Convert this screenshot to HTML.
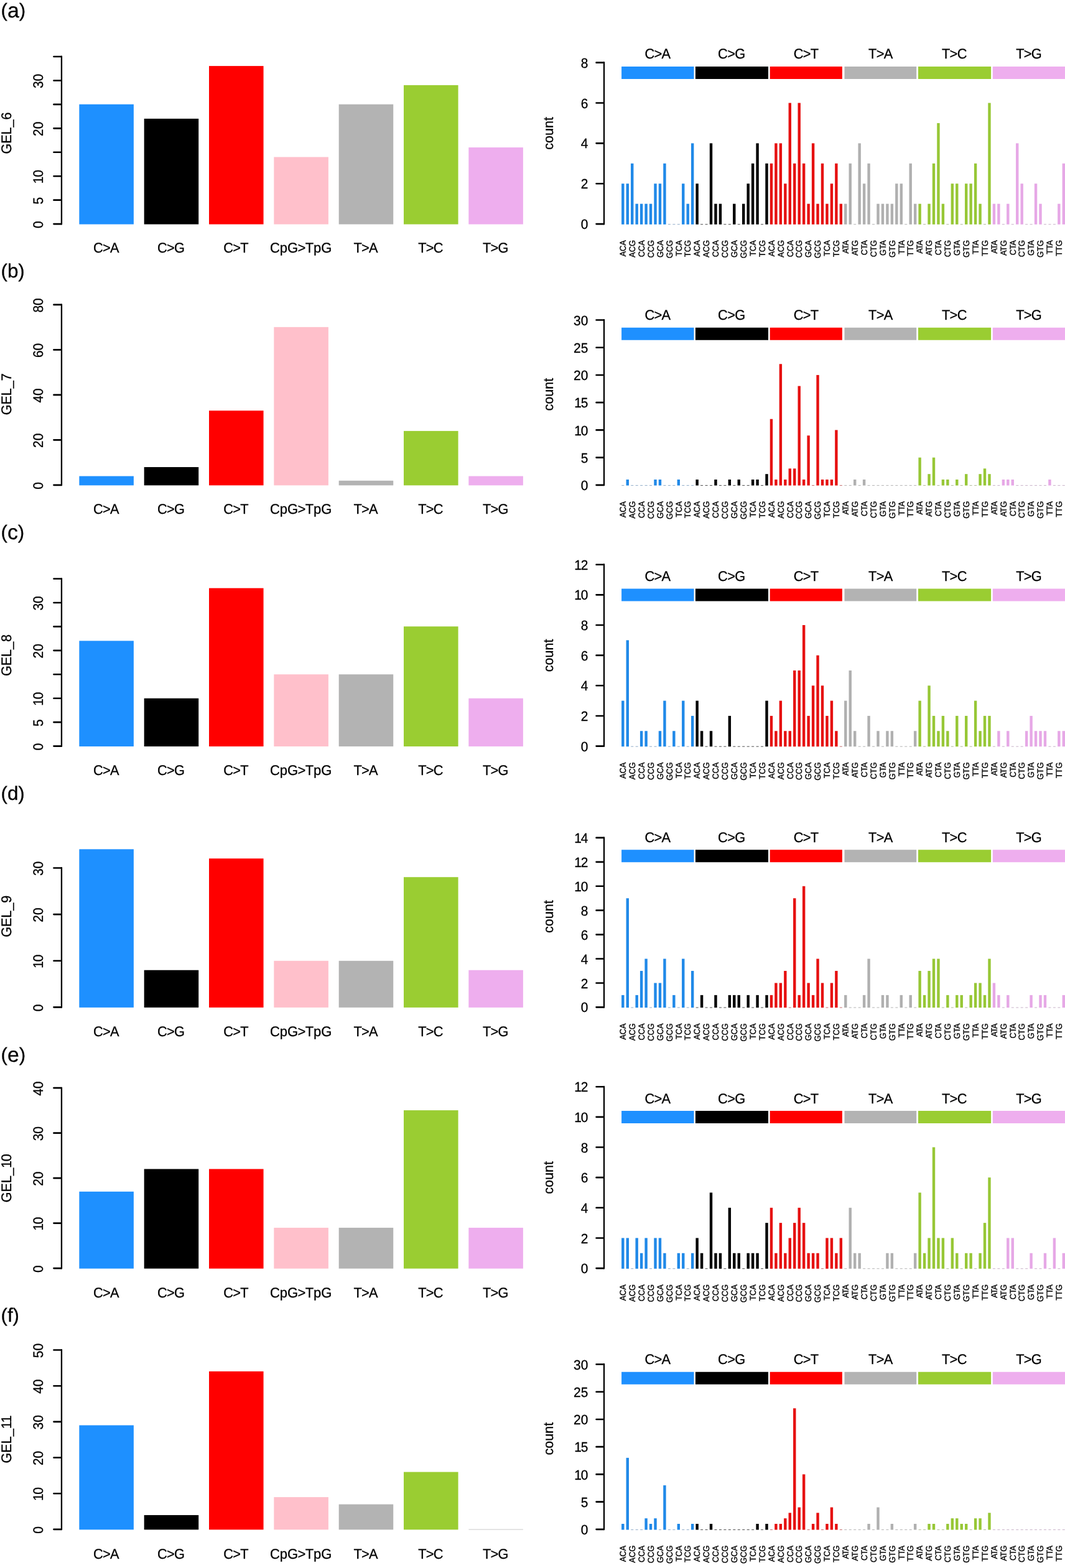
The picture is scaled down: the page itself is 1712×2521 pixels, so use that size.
<!DOCTYPE html>
<html lang="en"><head><meta charset="utf-8"><title>Mutation spectra GEL_6 to GEL_11</title>
<style>
html,body{margin:0;padding:0;background:#fff}
body{width:1712px;height:2521px;overflow:hidden}
svg{display:block}
text{font-family:'Liberation Sans', 'DejaVu Sans', sans-serif;fill:#000;stroke:#000;stroke-linejoin:round;text-rendering:geometricPrecision}
.ax,.tk{stroke:#000;fill:none;stroke-linecap:round;stroke-linejoin:round}
.ax{stroke-width:2.3}.tk{stroke-width:2.6}
.lt{font-size:22.4px;stroke-width:0.3}
.yl{font-size:22.7px;stroke-width:0.3}
.xl{font-size:22.7px;stroke-width:0.3}
.rt{font-size:22px;stroke-width:0.3}
.yr{font-size:22px;stroke-width:0.3}
.tp{font-size:22.7px;stroke-width:0.3}
.sm{font-size:13.8px;stroke-width:0.35}
.pl{stroke-width:0.3}
.m{text-anchor:middle}.e{text-anchor:end}.s{text-anchor:start}
</style></head><body>
<svg width="1712" height="2521" viewBox="0 0 1712 2521" role="img" aria-label="Mutation spectra">
<rect width="1712" height="2521" fill="#fff"/>
<g id="row-a">
<text class="pl s" transform="translate(1.5 26.63) scale(1.01 1)"><tspan font-size="30.85px">(</tspan><tspan font-size="33.4px" dy="0.9">a</tspan><tspan font-size="30.85px" dy="-0.9">)</tspan></text>
<g class="left">
<rect x="127.35" y="167.72" width="87.55" height="192.88" fill="#1E90FF"/>
<rect x="231.68" y="190.83" width="87.55" height="169.77" fill="#000000"/>
<rect x="336.01" y="106.1" width="87.55" height="254.5" fill="#FF0000"/>
<rect x="440.34" y="252.46" width="87.55" height="108.14" fill="#FFC0CB"/>
<rect x="544.67" y="167.72" width="87.55" height="192.88" fill="#B3B3B3"/>
<rect x="649" y="136.91" width="87.55" height="223.69" fill="#9ACD32"/>
<rect x="753.33" y="237.05" width="87.55" height="123.55" fill="#EEAEEE"/>
<path class="ax" d="M98.95 90.72 V360.4"/>
<path class="tk" d="M86.45 360.1 H98.75 M86.45 321.66 H98.75 M86.45 283.22 H98.75 M86.45 244.78 H98.75 M86.45 206.34 H98.75 M86.45 167.9 H98.75 M86.45 129.46 H98.75 M86.45 91.02 H98.75"/>
<text class="lt m" transform="translate(68.6 361.1) rotate(-90) scale(0.93 1)">0</text>
<text class="lt m" transform="translate(68.6 322.66) rotate(-90) scale(0.93 1)">5</text>
<text class="lt m" transform="translate(68.6 284.22) rotate(-90) scale(0.93 1)" dx="0 -1.4">10</text>
<text class="lt m" transform="translate(68.6 207.34) rotate(-90) scale(0.93 1)">20</text>
<text class="lt m" transform="translate(68.6 130.46) rotate(-90) scale(0.93 1)">30</text>
<text class="yl m" transform="translate(18 214) rotate(-90) scale(0.95 1)">GEL_6</text>
<text class="xl m" transform="translate(170.72 406.35) scale(0.96 1)" dx="0 -0.73 -0.73">C&gt;A</text>
<text class="xl m" transform="translate(275.06 406.35) scale(0.96 1)" dx="0 -0.73 -0.73">C&gt;G</text>
<text class="xl m" transform="translate(379.38 406.35) scale(0.96 1)" dx="0 -0.73 -0.73">C&gt;T</text>
<text class="xl m" transform="translate(483.72 406.35) scale(0.97 1)" dx="0 0 0 -0.72 -0.72 0 0">CpG&gt;TpG</text>
<text class="xl m" transform="translate(588.04 406.35) scale(0.96 1)" dx="0 -0.73 -0.73">T&gt;A</text>
<text class="xl m" transform="translate(692.38 406.35) scale(0.96 1)" dx="0 -0.73 -0.73">T&gt;C</text>
<text class="xl m" transform="translate(796.71 406.35) scale(0.96 1)" dx="0 -0.73 -0.73">T&gt;G</text>
</g>
<g class="right">
<rect x="999.1" y="107" width="116.4" height="20" fill="#1E90FF"/>
<text class="tp m" transform="translate(1057.3 93.95) scale(0.96 1)" dx="0 -0.73 -0.73">C&gt;A</text>
<rect x="999.1" y="295.23" width="4.4" height="65.57" fill="#2089E8"/>
<rect x="1006.56" y="295.23" width="4.4" height="65.57" fill="#2089E8"/>
<rect x="1014.02" y="262.8" width="4.4" height="98" fill="#2089E8"/>
<rect x="1021.47" y="327.67" width="4.4" height="33.13" fill="#2089E8"/>
<rect x="1028.93" y="327.67" width="4.4" height="33.13" fill="#2089E8"/>
<rect x="1036.39" y="327.67" width="4.4" height="33.13" fill="#2089E8"/>
<rect x="1043.85" y="327.67" width="4.4" height="33.13" fill="#2089E8"/>
<rect x="1051.31" y="295.23" width="4.4" height="65.57" fill="#2089E8"/>
<rect x="1058.76" y="295.23" width="4.4" height="65.57" fill="#2089E8"/>
<rect x="1066.22" y="262.8" width="4.4" height="98" fill="#2089E8"/>
<rect x="1073.88" y="360.2" width="4" height="1" fill="#7f9fbf" opacity="0.85"/>
<rect x="1081.34" y="360.2" width="4" height="1" fill="#7f9fbf" opacity="0.85"/>
<rect x="1088.8" y="360.2" width="4" height="1" fill="#7f9fbf" opacity="0.85"/>
<rect x="1096.05" y="295.23" width="4.4" height="65.57" fill="#2089E8"/>
<rect x="1103.51" y="327.67" width="4.4" height="33.13" fill="#2089E8"/>
<rect x="1110.97" y="230.37" width="4.4" height="130.43" fill="#2089E8"/>
<text class="sm e" transform="translate(1006.05 386.1) rotate(-90) scale(0.93 1)">ACA</text>
<text class="sm e" transform="translate(1020.97 386.1) rotate(-90) scale(0.93 1)">ACG</text>
<text class="sm e" transform="translate(1035.88 386.1) rotate(-90) scale(0.93 1)">CCA</text>
<text class="sm e" transform="translate(1050.8 386.1) rotate(-90) scale(0.93 1)">CCG</text>
<text class="sm e" transform="translate(1065.71 386.1) rotate(-90) scale(0.93 1)">GCA</text>
<text class="sm e" transform="translate(1080.63 386.1) rotate(-90) scale(0.93 1)">GCG</text>
<text class="sm e" transform="translate(1095.55 386.1) rotate(-90) scale(0.93 1)">TCA</text>
<text class="sm e" transform="translate(1110.46 386.1) rotate(-90) scale(0.93 1)">TCG</text>
<rect x="1117.9" y="107" width="117.1" height="20" fill="#000000"/>
<text class="tp m" transform="translate(1176.1 93.95) scale(0.96 1)" dx="0 -0.73 -0.73">C&gt;G</text>
<rect x="1118.43" y="295.23" width="4.4" height="65.57" fill="#000000"/>
<rect x="1126.09" y="360.2" width="4" height="1" fill="#333333" opacity="0.85"/>
<rect x="1133.54" y="360.2" width="4" height="1" fill="#333333" opacity="0.85"/>
<rect x="1140.8" y="230.37" width="4.4" height="130.43" fill="#000000"/>
<rect x="1148.26" y="327.67" width="4.4" height="33.13" fill="#000000"/>
<rect x="1155.72" y="327.67" width="4.4" height="33.13" fill="#000000"/>
<rect x="1163.38" y="360.2" width="4" height="1" fill="#333333" opacity="0.85"/>
<rect x="1170.83" y="360.2" width="4" height="1" fill="#333333" opacity="0.85"/>
<rect x="1178.09" y="327.67" width="4.4" height="33.13" fill="#000000"/>
<rect x="1185.75" y="360.2" width="4" height="1" fill="#333333" opacity="0.85"/>
<rect x="1193.01" y="327.67" width="4.4" height="33.13" fill="#000000"/>
<rect x="1200.47" y="295.23" width="4.4" height="65.57" fill="#000000"/>
<rect x="1207.92" y="262.8" width="4.4" height="98" fill="#000000"/>
<rect x="1215.38" y="230.37" width="4.4" height="130.43" fill="#000000"/>
<rect x="1223.04" y="360.2" width="4" height="1" fill="#333333" opacity="0.85"/>
<rect x="1230.3" y="262.8" width="4.4" height="98" fill="#000000"/>
<text class="sm e" transform="translate(1125.38 386.1) rotate(-90) scale(0.93 1)">ACA</text>
<text class="sm e" transform="translate(1140.29 386.1) rotate(-90) scale(0.93 1)">ACG</text>
<text class="sm e" transform="translate(1155.21 386.1) rotate(-90) scale(0.93 1)">CCA</text>
<text class="sm e" transform="translate(1170.13 386.1) rotate(-90) scale(0.93 1)">CCG</text>
<text class="sm e" transform="translate(1185.04 386.1) rotate(-90) scale(0.93 1)">GCA</text>
<text class="sm e" transform="translate(1199.96 386.1) rotate(-90) scale(0.93 1)">GCG</text>
<text class="sm e" transform="translate(1214.87 386.1) rotate(-90) scale(0.93 1)">TCA</text>
<text class="sm e" transform="translate(1229.79 386.1) rotate(-90) scale(0.93 1)">TCG</text>
<rect x="1237.7" y="107" width="116.2" height="20" fill="#FF0000"/>
<text class="tp m" transform="translate(1295.9 93.95) scale(0.96 1)" dx="0 -0.73 -0.73">C&gt;T</text>
<rect x="1237.76" y="262.8" width="4.4" height="98" fill="#E61010"/>
<rect x="1245.21" y="230.37" width="4.4" height="130.43" fill="#E61010"/>
<rect x="1252.67" y="230.37" width="4.4" height="130.43" fill="#E61010"/>
<rect x="1260.13" y="295.23" width="4.4" height="65.57" fill="#E61010"/>
<rect x="1267.59" y="165.5" width="4.4" height="195.3" fill="#E61010"/>
<rect x="1275.05" y="262.8" width="4.4" height="98" fill="#E61010"/>
<rect x="1282.5" y="165.5" width="4.4" height="195.3" fill="#E61010"/>
<rect x="1289.96" y="262.8" width="4.4" height="98" fill="#E61010"/>
<rect x="1297.42" y="327.67" width="4.4" height="33.13" fill="#E61010"/>
<rect x="1304.88" y="230.37" width="4.4" height="130.43" fill="#E61010"/>
<rect x="1312.34" y="327.67" width="4.4" height="33.13" fill="#E61010"/>
<rect x="1319.79" y="262.8" width="4.4" height="98" fill="#E61010"/>
<rect x="1327.25" y="327.67" width="4.4" height="33.13" fill="#E61010"/>
<rect x="1334.71" y="295.23" width="4.4" height="65.57" fill="#E61010"/>
<rect x="1342.17" y="262.8" width="4.4" height="98" fill="#E61010"/>
<rect x="1349.63" y="327.67" width="4.4" height="33.13" fill="#E61010"/>
<text class="sm e" transform="translate(1244.71 386.1) rotate(-90) scale(0.93 1)">ACA</text>
<text class="sm e" transform="translate(1259.62 386.1) rotate(-90) scale(0.93 1)">ACG</text>
<text class="sm e" transform="translate(1274.54 386.1) rotate(-90) scale(0.93 1)">CCA</text>
<text class="sm e" transform="translate(1289.45 386.1) rotate(-90) scale(0.93 1)">CCG</text>
<text class="sm e" transform="translate(1304.37 386.1) rotate(-90) scale(0.93 1)">GCA</text>
<text class="sm e" transform="translate(1319.29 386.1) rotate(-90) scale(0.93 1)">GCG</text>
<text class="sm e" transform="translate(1334.2 386.1) rotate(-90) scale(0.93 1)">TCA</text>
<text class="sm e" transform="translate(1349.12 386.1) rotate(-90) scale(0.93 1)">TCG</text>
<rect x="1357.5" y="107" width="115.7" height="20" fill="#B3B3B3"/>
<text class="tp m" transform="translate(1415.7 93.95) scale(0.96 1)" dx="0 -0.73 -0.73">T&gt;A</text>
<rect x="1357.08" y="327.67" width="4.4" height="33.13" fill="#B0B0B0"/>
<rect x="1364.54" y="262.8" width="4.4" height="98" fill="#B0B0B0"/>
<rect x="1372.2" y="360.2" width="4" height="1" fill="#a8a8a8" opacity="0.85"/>
<rect x="1379.46" y="230.37" width="4.4" height="130.43" fill="#B0B0B0"/>
<rect x="1386.92" y="295.23" width="4.4" height="65.57" fill="#B0B0B0"/>
<rect x="1394.37" y="262.8" width="4.4" height="98" fill="#B0B0B0"/>
<rect x="1402.03" y="360.2" width="4" height="1" fill="#a8a8a8" opacity="0.85"/>
<rect x="1409.29" y="327.67" width="4.4" height="33.13" fill="#B0B0B0"/>
<rect x="1416.75" y="327.67" width="4.4" height="33.13" fill="#B0B0B0"/>
<rect x="1424.21" y="327.67" width="4.4" height="33.13" fill="#B0B0B0"/>
<rect x="1431.66" y="327.67" width="4.4" height="33.13" fill="#B0B0B0"/>
<rect x="1439.12" y="295.23" width="4.4" height="65.57" fill="#B0B0B0"/>
<rect x="1446.58" y="295.23" width="4.4" height="65.57" fill="#B0B0B0"/>
<rect x="1454.24" y="360.2" width="4" height="1" fill="#a8a8a8" opacity="0.85"/>
<rect x="1461.5" y="262.8" width="4.4" height="98" fill="#B0B0B0"/>
<rect x="1468.95" y="327.67" width="4.4" height="33.13" fill="#B0B0B0"/>
<text class="sm e" transform="translate(1364.03 386.1) rotate(-90) scale(0.93 1)" dx="0 -0.7 -0.7">ATA</text>
<text class="sm e" transform="translate(1378.95 386.1) rotate(-90) scale(0.93 1)" dx="0 -0.7 0">ATG</text>
<text class="sm e" transform="translate(1393.87 386.1) rotate(-90) scale(0.93 1)" dx="0 0 -0.7">CTA</text>
<text class="sm e" transform="translate(1408.78 386.1) rotate(-90) scale(0.93 1)">CTG</text>
<text class="sm e" transform="translate(1423.7 386.1) rotate(-90) scale(0.93 1)" dx="0 0 -0.7">GTA</text>
<text class="sm e" transform="translate(1438.61 386.1) rotate(-90) scale(0.93 1)">GTG</text>
<text class="sm e" transform="translate(1453.53 386.1) rotate(-90) scale(0.93 1)" dx="0 0 -0.7">TTA</text>
<text class="sm e" transform="translate(1468.45 386.1) rotate(-90) scale(0.93 1)">TTG</text>
<rect x="1476" y="107" width="117.1" height="20" fill="#9ACD32"/>
<text class="tp m" transform="translate(1534.2 93.95) scale(0.96 1)" dx="0 -0.73 -0.73">T&gt;C</text>
<rect x="1476.41" y="327.67" width="4.4" height="33.13" fill="#97C736"/>
<rect x="1484.07" y="360.2" width="4" height="1" fill="#a4b08a" opacity="0.85"/>
<rect x="1491.33" y="327.67" width="4.4" height="33.13" fill="#97C736"/>
<rect x="1498.79" y="262.8" width="4.4" height="98" fill="#97C736"/>
<rect x="1506.24" y="197.93" width="4.4" height="162.87" fill="#97C736"/>
<rect x="1513.7" y="327.67" width="4.4" height="33.13" fill="#97C736"/>
<rect x="1521.36" y="360.2" width="4" height="1" fill="#a4b08a" opacity="0.85"/>
<rect x="1528.62" y="295.23" width="4.4" height="65.57" fill="#97C736"/>
<rect x="1536.08" y="295.23" width="4.4" height="65.57" fill="#97C736"/>
<rect x="1543.73" y="360.2" width="4" height="1" fill="#a4b08a" opacity="0.85"/>
<rect x="1550.99" y="295.23" width="4.4" height="65.57" fill="#97C736"/>
<rect x="1558.45" y="295.23" width="4.4" height="65.57" fill="#97C736"/>
<rect x="1565.91" y="262.8" width="4.4" height="98" fill="#97C736"/>
<rect x="1573.37" y="327.67" width="4.4" height="33.13" fill="#97C736"/>
<rect x="1581.02" y="360.2" width="4" height="1" fill="#a4b08a" opacity="0.85"/>
<rect x="1588.28" y="165.5" width="4.4" height="195.3" fill="#97C736"/>
<text class="sm e" transform="translate(1483.36 386.1) rotate(-90) scale(0.93 1)" dx="0 -0.7 -0.7">ATA</text>
<text class="sm e" transform="translate(1498.28 386.1) rotate(-90) scale(0.93 1)" dx="0 -0.7 0">ATG</text>
<text class="sm e" transform="translate(1513.19 386.1) rotate(-90) scale(0.93 1)" dx="0 0 -0.7">CTA</text>
<text class="sm e" transform="translate(1528.11 386.1) rotate(-90) scale(0.93 1)">CTG</text>
<text class="sm e" transform="translate(1543.03 386.1) rotate(-90) scale(0.93 1)" dx="0 0 -0.7">GTA</text>
<text class="sm e" transform="translate(1557.94 386.1) rotate(-90) scale(0.93 1)">GTG</text>
<text class="sm e" transform="translate(1572.86 386.1) rotate(-90) scale(0.93 1)" dx="0 0 -0.7">TTA</text>
<text class="sm e" transform="translate(1587.77 386.1) rotate(-90) scale(0.93 1)">TTG</text>
<rect x="1595.8" y="107" width="116.2" height="20" fill="#EEAEEE"/>
<text class="tp m" transform="translate(1654 93.95) scale(0.96 1)" dx="0 -0.73 -0.73">T&gt;G</text>
<rect x="1595.74" y="327.67" width="4.4" height="33.13" fill="#E6A8E6"/>
<rect x="1603.2" y="327.67" width="4.4" height="33.13" fill="#E6A8E6"/>
<rect x="1610.86" y="360.2" width="4" height="1" fill="#bfa6bf" opacity="0.85"/>
<rect x="1618.11" y="327.67" width="4.4" height="33.13" fill="#E6A8E6"/>
<rect x="1625.77" y="360.2" width="4" height="1" fill="#bfa6bf" opacity="0.85"/>
<rect x="1633.03" y="230.37" width="4.4" height="130.43" fill="#E6A8E6"/>
<rect x="1640.49" y="295.23" width="4.4" height="65.57" fill="#E6A8E6"/>
<rect x="1648.15" y="360.2" width="4" height="1" fill="#bfa6bf" opacity="0.85"/>
<rect x="1655.6" y="360.2" width="4" height="1" fill="#bfa6bf" opacity="0.85"/>
<rect x="1662.86" y="295.23" width="4.4" height="65.57" fill="#E6A8E6"/>
<rect x="1670.32" y="327.67" width="4.4" height="33.13" fill="#E6A8E6"/>
<rect x="1677.98" y="360.2" width="4" height="1" fill="#bfa6bf" opacity="0.85"/>
<rect x="1685.44" y="360.2" width="4" height="1" fill="#bfa6bf" opacity="0.85"/>
<rect x="1692.89" y="360.2" width="4" height="1" fill="#bfa6bf" opacity="0.85"/>
<rect x="1700.15" y="327.67" width="4.4" height="33.13" fill="#E6A8E6"/>
<rect x="1707.61" y="262.8" width="4.39" height="98" fill="#E6A8E6"/>
<text class="sm e" transform="translate(1602.69 386.1) rotate(-90) scale(0.93 1)" dx="0 -0.7 -0.7">ATA</text>
<text class="sm e" transform="translate(1617.61 386.1) rotate(-90) scale(0.93 1)" dx="0 -0.7 0">ATG</text>
<text class="sm e" transform="translate(1632.52 386.1) rotate(-90) scale(0.93 1)" dx="0 0 -0.7">CTA</text>
<text class="sm e" transform="translate(1647.44 386.1) rotate(-90) scale(0.93 1)">CTG</text>
<text class="sm e" transform="translate(1662.35 386.1) rotate(-90) scale(0.93 1)" dx="0 0 -0.7">GTA</text>
<text class="sm e" transform="translate(1677.27 386.1) rotate(-90) scale(0.93 1)">GTG</text>
<text class="sm e" transform="translate(1692.19 386.1) rotate(-90) scale(0.93 1)" dx="0 0 -0.7">TTA</text>
<text class="sm e" transform="translate(1707.1 386.1) rotate(-90) scale(0.93 1)">TTG</text>
<path class="ax" d="M971 100.33 V360.4"/>
<path class="tk" d="M958.55 360.1 H970.8 M958.55 295.23 H970.8 M958.55 230.37 H970.8 M958.55 165.5 H970.8 M958.55 100.63 H970.8"/>
<text class="rt e" transform="translate(945.3 368.2) scale(0.95 1)">0</text>
<text class="rt e" transform="translate(945.3 303.33) scale(0.95 1)">2</text>
<text class="rt e" transform="translate(945.3 238.47) scale(0.95 1)">4</text>
<text class="rt e" transform="translate(945.3 173.6) scale(0.95 1)">6</text>
<text class="rt e" transform="translate(945.3 108.73) scale(0.95 1)">8</text>
<text class="yr m" transform="translate(889.05 214.5) rotate(-90) scale(0.98 1)">count</text>
</g>
</g>
<g id="row-b">
<text class="pl s" transform="translate(1.5 446.38) scale(1.01 1)"><tspan font-size="30.85px">(</tspan><tspan font-size="31.1px" dy="0.1">b</tspan><tspan font-size="30.85px" dy="-0.1">)</tspan></text>
<g class="left">
<rect x="127.35" y="765.52" width="87.55" height="14.83" fill="#1E90FF"/>
<rect x="231.68" y="751" width="87.55" height="29.35" fill="#000000"/>
<rect x="336.01" y="660.21" width="87.55" height="120.14" fill="#FF0000"/>
<rect x="440.34" y="525.85" width="87.55" height="254.5" fill="#FFC0CB"/>
<rect x="544.67" y="772.79" width="87.55" height="7.56" fill="#B3B3B3"/>
<rect x="649" y="692.9" width="87.55" height="87.45" fill="#9ACD32"/>
<rect x="753.33" y="765.52" width="87.55" height="14.83" fill="#EEAEEE"/>
<path class="ax" d="M98.95 489.61 V780.15"/>
<path class="tk" d="M86.45 779.85 H98.75 M86.45 707.36 H98.75 M86.45 634.88 H98.75 M86.45 562.39 H98.75 M86.45 489.91 H98.75"/>
<text class="lt m" transform="translate(68.6 780.85) rotate(-90) scale(0.93 1)">0</text>
<text class="lt m" transform="translate(68.6 708.36) rotate(-90) scale(0.93 1)">20</text>
<text class="lt m" transform="translate(68.6 635.88) rotate(-90) scale(0.93 1)">40</text>
<text class="lt m" transform="translate(68.6 563.39) rotate(-90) scale(0.93 1)">60</text>
<text class="lt m" transform="translate(68.6 490.91) rotate(-90) scale(0.93 1)">80</text>
<text class="yl m" transform="translate(18 633.75) rotate(-90) scale(0.95 1)">GEL_7</text>
<text class="xl m" transform="translate(170.72 826.35) scale(0.96 1)" dx="0 -0.73 -0.73">C&gt;A</text>
<text class="xl m" transform="translate(275.06 826.35) scale(0.96 1)" dx="0 -0.73 -0.73">C&gt;G</text>
<text class="xl m" transform="translate(379.38 826.35) scale(0.96 1)" dx="0 -0.73 -0.73">C&gt;T</text>
<text class="xl m" transform="translate(483.72 826.35) scale(0.97 1)" dx="0 0 0 -0.72 -0.72 0 0">CpG&gt;TpG</text>
<text class="xl m" transform="translate(588.04 826.35) scale(0.96 1)" dx="0 -0.73 -0.73">T&gt;A</text>
<text class="xl m" transform="translate(692.38 826.35) scale(0.96 1)" dx="0 -0.73 -0.73">T&gt;C</text>
<text class="xl m" transform="translate(796.71 826.35) scale(0.96 1)" dx="0 -0.73 -0.73">T&gt;G</text>
</g>
<g class="right">
<rect x="999.1" y="526.75" width="116.4" height="20" fill="#1E90FF"/>
<text class="tp m" transform="translate(1057.3 513.85) scale(0.96 1)" dx="0 -0.73 -0.73">C&gt;A</text>
<rect x="999.3" y="779.95" width="4" height="1" fill="#7f9fbf" opacity="0.85"/>
<rect x="1006.56" y="771" width="4.4" height="9.55" fill="#2089E8"/>
<rect x="1014.22" y="779.95" width="4" height="1" fill="#7f9fbf" opacity="0.85"/>
<rect x="1021.67" y="779.95" width="4" height="1" fill="#7f9fbf" opacity="0.85"/>
<rect x="1029.13" y="779.95" width="4" height="1" fill="#7f9fbf" opacity="0.85"/>
<rect x="1036.59" y="779.95" width="4" height="1" fill="#7f9fbf" opacity="0.85"/>
<rect x="1044.05" y="779.95" width="4" height="1" fill="#7f9fbf" opacity="0.85"/>
<rect x="1051.31" y="771" width="4.4" height="9.55" fill="#2089E8"/>
<rect x="1058.76" y="771" width="4.4" height="9.55" fill="#2089E8"/>
<rect x="1066.42" y="779.95" width="4" height="1" fill="#7f9fbf" opacity="0.85"/>
<rect x="1073.88" y="779.95" width="4" height="1" fill="#7f9fbf" opacity="0.85"/>
<rect x="1081.34" y="779.95" width="4" height="1" fill="#7f9fbf" opacity="0.85"/>
<rect x="1088.6" y="771" width="4.4" height="9.55" fill="#2089E8"/>
<rect x="1096.25" y="779.95" width="4" height="1" fill="#7f9fbf" opacity="0.85"/>
<rect x="1103.71" y="779.95" width="4" height="1" fill="#7f9fbf" opacity="0.85"/>
<rect x="1111.17" y="779.95" width="4" height="1" fill="#7f9fbf" opacity="0.85"/>
<text class="sm e" transform="translate(1006.05 805.85) rotate(-90) scale(0.93 1)">ACA</text>
<text class="sm e" transform="translate(1020.97 805.85) rotate(-90) scale(0.93 1)">ACG</text>
<text class="sm e" transform="translate(1035.88 805.85) rotate(-90) scale(0.93 1)">CCA</text>
<text class="sm e" transform="translate(1050.8 805.85) rotate(-90) scale(0.93 1)">CCG</text>
<text class="sm e" transform="translate(1065.71 805.85) rotate(-90) scale(0.93 1)">GCA</text>
<text class="sm e" transform="translate(1080.63 805.85) rotate(-90) scale(0.93 1)">GCG</text>
<text class="sm e" transform="translate(1095.55 805.85) rotate(-90) scale(0.93 1)">TCA</text>
<text class="sm e" transform="translate(1110.46 805.85) rotate(-90) scale(0.93 1)">TCG</text>
<rect x="1117.9" y="526.75" width="117.1" height="20" fill="#000000"/>
<text class="tp m" transform="translate(1176.1 513.85) scale(0.96 1)" dx="0 -0.73 -0.73">C&gt;G</text>
<rect x="1118.43" y="771" width="4.4" height="9.55" fill="#000000"/>
<rect x="1126.09" y="779.95" width="4" height="1" fill="#333333" opacity="0.85"/>
<rect x="1133.54" y="779.95" width="4" height="1" fill="#333333" opacity="0.85"/>
<rect x="1141" y="779.95" width="4" height="1" fill="#333333" opacity="0.85"/>
<rect x="1148.26" y="771" width="4.4" height="9.55" fill="#000000"/>
<rect x="1155.92" y="779.95" width="4" height="1" fill="#333333" opacity="0.85"/>
<rect x="1163.38" y="779.95" width="4" height="1" fill="#333333" opacity="0.85"/>
<rect x="1170.63" y="771" width="4.4" height="9.55" fill="#000000"/>
<rect x="1178.29" y="779.95" width="4" height="1" fill="#333333" opacity="0.85"/>
<rect x="1185.55" y="771" width="4.4" height="9.55" fill="#000000"/>
<rect x="1193.21" y="779.95" width="4" height="1" fill="#333333" opacity="0.85"/>
<rect x="1200.67" y="779.95" width="4" height="1" fill="#333333" opacity="0.85"/>
<rect x="1207.92" y="771" width="4.4" height="9.55" fill="#000000"/>
<rect x="1215.38" y="771" width="4.4" height="9.55" fill="#000000"/>
<rect x="1223.04" y="779.95" width="4" height="1" fill="#333333" opacity="0.85"/>
<rect x="1230.3" y="762.16" width="4.4" height="18.39" fill="#000000"/>
<text class="sm e" transform="translate(1125.38 805.85) rotate(-90) scale(0.93 1)">ACA</text>
<text class="sm e" transform="translate(1140.29 805.85) rotate(-90) scale(0.93 1)">ACG</text>
<text class="sm e" transform="translate(1155.21 805.85) rotate(-90) scale(0.93 1)">CCA</text>
<text class="sm e" transform="translate(1170.13 805.85) rotate(-90) scale(0.93 1)">CCG</text>
<text class="sm e" transform="translate(1185.04 805.85) rotate(-90) scale(0.93 1)">GCA</text>
<text class="sm e" transform="translate(1199.96 805.85) rotate(-90) scale(0.93 1)">GCG</text>
<text class="sm e" transform="translate(1214.87 805.85) rotate(-90) scale(0.93 1)">TCA</text>
<text class="sm e" transform="translate(1229.79 805.85) rotate(-90) scale(0.93 1)">TCG</text>
<rect x="1237.7" y="526.75" width="116.2" height="20" fill="#FF0000"/>
<text class="tp m" transform="translate(1295.9 513.85) scale(0.96 1)" dx="0 -0.73 -0.73">C&gt;T</text>
<rect x="1237.76" y="673.7" width="4.4" height="106.85" fill="#E61010"/>
<rect x="1245.21" y="771" width="4.4" height="9.55" fill="#E61010"/>
<rect x="1252.67" y="585.25" width="4.4" height="195.3" fill="#E61010"/>
<rect x="1260.13" y="771" width="4.4" height="9.55" fill="#E61010"/>
<rect x="1267.59" y="753.31" width="4.4" height="27.24" fill="#E61010"/>
<rect x="1275.05" y="753.31" width="4.4" height="27.24" fill="#E61010"/>
<rect x="1282.5" y="620.63" width="4.4" height="159.92" fill="#E61010"/>
<rect x="1289.96" y="771" width="4.4" height="9.55" fill="#E61010"/>
<rect x="1297.42" y="700.24" width="4.4" height="80.31" fill="#E61010"/>
<rect x="1305.08" y="779.95" width="4" height="1" fill="#bb5555" opacity="0.85"/>
<rect x="1312.34" y="602.94" width="4.4" height="177.61" fill="#E61010"/>
<rect x="1319.79" y="771" width="4.4" height="9.55" fill="#E61010"/>
<rect x="1327.25" y="771" width="4.4" height="9.55" fill="#E61010"/>
<rect x="1334.71" y="771" width="4.4" height="9.55" fill="#E61010"/>
<rect x="1342.17" y="691.4" width="4.4" height="89.15" fill="#E61010"/>
<rect x="1349.83" y="779.95" width="4" height="1" fill="#bb5555" opacity="0.85"/>
<text class="sm e" transform="translate(1244.71 805.85) rotate(-90) scale(0.93 1)">ACA</text>
<text class="sm e" transform="translate(1259.62 805.85) rotate(-90) scale(0.93 1)">ACG</text>
<text class="sm e" transform="translate(1274.54 805.85) rotate(-90) scale(0.93 1)">CCA</text>
<text class="sm e" transform="translate(1289.45 805.85) rotate(-90) scale(0.93 1)">CCG</text>
<text class="sm e" transform="translate(1304.37 805.85) rotate(-90) scale(0.93 1)">GCA</text>
<text class="sm e" transform="translate(1319.29 805.85) rotate(-90) scale(0.93 1)">GCG</text>
<text class="sm e" transform="translate(1334.2 805.85) rotate(-90) scale(0.93 1)">TCA</text>
<text class="sm e" transform="translate(1349.12 805.85) rotate(-90) scale(0.93 1)">TCG</text>
<rect x="1357.5" y="526.75" width="115.7" height="20" fill="#B3B3B3"/>
<text class="tp m" transform="translate(1415.7 513.85) scale(0.96 1)" dx="0 -0.73 -0.73">T&gt;A</text>
<rect x="1357.28" y="779.95" width="4" height="1" fill="#a8a8a8" opacity="0.85"/>
<rect x="1364.74" y="779.95" width="4" height="1" fill="#a8a8a8" opacity="0.85"/>
<rect x="1372" y="771" width="4.4" height="9.55" fill="#B0B0B0"/>
<rect x="1379.66" y="779.95" width="4" height="1" fill="#a8a8a8" opacity="0.85"/>
<rect x="1386.92" y="771" width="4.4" height="9.55" fill="#B0B0B0"/>
<rect x="1394.57" y="779.95" width="4" height="1" fill="#a8a8a8" opacity="0.85"/>
<rect x="1402.03" y="779.95" width="4" height="1" fill="#a8a8a8" opacity="0.85"/>
<rect x="1409.49" y="779.95" width="4" height="1" fill="#a8a8a8" opacity="0.85"/>
<rect x="1416.95" y="779.95" width="4" height="1" fill="#a8a8a8" opacity="0.85"/>
<rect x="1424.41" y="779.95" width="4" height="1" fill="#a8a8a8" opacity="0.85"/>
<rect x="1431.86" y="779.95" width="4" height="1" fill="#a8a8a8" opacity="0.85"/>
<rect x="1439.32" y="779.95" width="4" height="1" fill="#a8a8a8" opacity="0.85"/>
<rect x="1446.78" y="779.95" width="4" height="1" fill="#a8a8a8" opacity="0.85"/>
<rect x="1454.24" y="779.95" width="4" height="1" fill="#a8a8a8" opacity="0.85"/>
<rect x="1461.7" y="779.95" width="4" height="1" fill="#a8a8a8" opacity="0.85"/>
<rect x="1469.15" y="779.95" width="4" height="1" fill="#a8a8a8" opacity="0.85"/>
<text class="sm e" transform="translate(1364.03 805.85) rotate(-90) scale(0.93 1)" dx="0 -0.7 -0.7">ATA</text>
<text class="sm e" transform="translate(1378.95 805.85) rotate(-90) scale(0.93 1)" dx="0 -0.7 0">ATG</text>
<text class="sm e" transform="translate(1393.87 805.85) rotate(-90) scale(0.93 1)" dx="0 0 -0.7">CTA</text>
<text class="sm e" transform="translate(1408.78 805.85) rotate(-90) scale(0.93 1)">CTG</text>
<text class="sm e" transform="translate(1423.7 805.85) rotate(-90) scale(0.93 1)" dx="0 0 -0.7">GTA</text>
<text class="sm e" transform="translate(1438.61 805.85) rotate(-90) scale(0.93 1)">GTG</text>
<text class="sm e" transform="translate(1453.53 805.85) rotate(-90) scale(0.93 1)" dx="0 0 -0.7">TTA</text>
<text class="sm e" transform="translate(1468.45 805.85) rotate(-90) scale(0.93 1)">TTG</text>
<rect x="1476" y="526.75" width="117.1" height="20" fill="#9ACD32"/>
<text class="tp m" transform="translate(1534.2 513.85) scale(0.96 1)" dx="0 -0.73 -0.73">T&gt;C</text>
<rect x="1476.41" y="735.62" width="4.4" height="44.93" fill="#97C736"/>
<rect x="1484.07" y="779.95" width="4" height="1" fill="#a4b08a" opacity="0.85"/>
<rect x="1491.33" y="762.16" width="4.4" height="18.39" fill="#97C736"/>
<rect x="1498.79" y="735.62" width="4.4" height="44.93" fill="#97C736"/>
<rect x="1506.44" y="779.95" width="4" height="1" fill="#a4b08a" opacity="0.85"/>
<rect x="1513.7" y="771" width="4.4" height="9.55" fill="#97C736"/>
<rect x="1521.16" y="771" width="4.4" height="9.55" fill="#97C736"/>
<rect x="1528.82" y="779.95" width="4" height="1" fill="#a4b08a" opacity="0.85"/>
<rect x="1536.08" y="771" width="4.4" height="9.55" fill="#97C736"/>
<rect x="1543.73" y="779.95" width="4" height="1" fill="#a4b08a" opacity="0.85"/>
<rect x="1550.99" y="762.16" width="4.4" height="18.39" fill="#97C736"/>
<rect x="1558.65" y="779.95" width="4" height="1" fill="#a4b08a" opacity="0.85"/>
<rect x="1566.11" y="779.95" width="4" height="1" fill="#a4b08a" opacity="0.85"/>
<rect x="1573.37" y="762.16" width="4.4" height="18.39" fill="#97C736"/>
<rect x="1580.82" y="753.31" width="4.4" height="27.24" fill="#97C736"/>
<rect x="1588.28" y="762.16" width="4.4" height="18.39" fill="#97C736"/>
<text class="sm e" transform="translate(1483.36 805.85) rotate(-90) scale(0.93 1)" dx="0 -0.7 -0.7">ATA</text>
<text class="sm e" transform="translate(1498.28 805.85) rotate(-90) scale(0.93 1)" dx="0 -0.7 0">ATG</text>
<text class="sm e" transform="translate(1513.19 805.85) rotate(-90) scale(0.93 1)" dx="0 0 -0.7">CTA</text>
<text class="sm e" transform="translate(1528.11 805.85) rotate(-90) scale(0.93 1)">CTG</text>
<text class="sm e" transform="translate(1543.03 805.85) rotate(-90) scale(0.93 1)" dx="0 0 -0.7">GTA</text>
<text class="sm e" transform="translate(1557.94 805.85) rotate(-90) scale(0.93 1)">GTG</text>
<text class="sm e" transform="translate(1572.86 805.85) rotate(-90) scale(0.93 1)" dx="0 0 -0.7">TTA</text>
<text class="sm e" transform="translate(1587.77 805.85) rotate(-90) scale(0.93 1)">TTG</text>
<rect x="1595.8" y="526.75" width="116.2" height="20" fill="#EEAEEE"/>
<text class="tp m" transform="translate(1654 513.85) scale(0.96 1)" dx="0 -0.73 -0.73">T&gt;G</text>
<rect x="1595.94" y="779.95" width="4" height="1" fill="#bfa6bf" opacity="0.85"/>
<rect x="1603.4" y="779.95" width="4" height="1" fill="#bfa6bf" opacity="0.85"/>
<rect x="1610.66" y="771" width="4.4" height="9.55" fill="#E6A8E6"/>
<rect x="1618.11" y="771" width="4.4" height="9.55" fill="#E6A8E6"/>
<rect x="1625.57" y="771" width="4.4" height="9.55" fill="#E6A8E6"/>
<rect x="1633.23" y="779.95" width="4" height="1" fill="#bfa6bf" opacity="0.85"/>
<rect x="1640.69" y="779.95" width="4" height="1" fill="#bfa6bf" opacity="0.85"/>
<rect x="1648.15" y="779.95" width="4" height="1" fill="#bfa6bf" opacity="0.85"/>
<rect x="1655.6" y="779.95" width="4" height="1" fill="#bfa6bf" opacity="0.85"/>
<rect x="1663.06" y="779.95" width="4" height="1" fill="#bfa6bf" opacity="0.85"/>
<rect x="1670.52" y="779.95" width="4" height="1" fill="#bfa6bf" opacity="0.85"/>
<rect x="1677.98" y="779.95" width="4" height="1" fill="#bfa6bf" opacity="0.85"/>
<rect x="1685.24" y="771" width="4.4" height="9.55" fill="#E6A8E6"/>
<rect x="1692.89" y="779.95" width="4" height="1" fill="#bfa6bf" opacity="0.85"/>
<rect x="1700.35" y="779.95" width="4" height="1" fill="#bfa6bf" opacity="0.85"/>
<rect x="1707.81" y="779.95" width="3.99" height="1" fill="#bfa6bf" opacity="0.85"/>
<text class="sm e" transform="translate(1602.69 805.85) rotate(-90) scale(0.93 1)" dx="0 -0.7 -0.7">ATA</text>
<text class="sm e" transform="translate(1617.61 805.85) rotate(-90) scale(0.93 1)" dx="0 -0.7 0">ATG</text>
<text class="sm e" transform="translate(1632.52 805.85) rotate(-90) scale(0.93 1)" dx="0 0 -0.7">CTA</text>
<text class="sm e" transform="translate(1647.44 805.85) rotate(-90) scale(0.93 1)">CTG</text>
<text class="sm e" transform="translate(1662.35 805.85) rotate(-90) scale(0.93 1)" dx="0 0 -0.7">GTA</text>
<text class="sm e" transform="translate(1677.27 805.85) rotate(-90) scale(0.93 1)">GTG</text>
<text class="sm e" transform="translate(1692.19 805.85) rotate(-90) scale(0.93 1)" dx="0 0 -0.7">TTA</text>
<text class="sm e" transform="translate(1707.1 805.85) rotate(-90) scale(0.93 1)">TTG</text>
<path class="ax" d="M971 514.19 V780.15"/>
<path class="tk" d="M958.55 779.85 H970.8 M958.55 735.62 H970.8 M958.55 691.4 H970.8 M958.55 647.17 H970.8 M958.55 602.94 H970.8 M958.55 558.71 H970.8 M958.55 514.49 H970.8"/>
<text class="rt e" transform="translate(945.3 787.95) scale(0.95 1)">0</text>
<text class="rt e" transform="translate(945.3 743.72) scale(0.95 1)">5</text>
<text class="rt e" transform="translate(945.3 699.5) scale(0.95 1)" dx="0 -1.37">10</text>
<text class="rt e" transform="translate(945.3 655.27) scale(0.95 1)" dx="0 -1.37">15</text>
<text class="rt e" transform="translate(945.3 611.04) scale(0.95 1)">20</text>
<text class="rt e" transform="translate(945.3 566.81) scale(0.95 1)">25</text>
<text class="rt e" transform="translate(945.3 522.59) scale(0.95 1)">30</text>
<text class="yr m" transform="translate(889.05 634.25) rotate(-90) scale(0.98 1)">count</text>
</g>
</g>
<g id="row-c">
<text class="pl s" transform="translate(1.5 866.13) scale(1.01 1)"><tspan font-size="30.85px">(</tspan><tspan font-size="33.4px" dy="0.9">c</tspan><tspan font-size="30.85px" dy="-0.9">)</tspan></text>
<g class="left">
<rect x="127.35" y="1030.33" width="87.55" height="169.77" fill="#1E90FF"/>
<rect x="231.68" y="1122.77" width="87.55" height="77.33" fill="#000000"/>
<rect x="336.01" y="945.6" width="87.55" height="254.5" fill="#FF0000"/>
<rect x="440.34" y="1084.25" width="87.55" height="115.85" fill="#FFC0CB"/>
<rect x="544.67" y="1084.25" width="87.55" height="115.85" fill="#B3B3B3"/>
<rect x="649" y="1007.22" width="87.55" height="192.88" fill="#9ACD32"/>
<rect x="753.33" y="1122.77" width="87.55" height="77.33" fill="#EEAEEE"/>
<path class="ax" d="M98.95 930.22 V1199.9"/>
<path class="tk" d="M86.45 1199.6 H98.75 M86.45 1161.16 H98.75 M86.45 1122.72 H98.75 M86.45 1084.28 H98.75 M86.45 1045.84 H98.75 M86.45 1007.4 H98.75 M86.45 968.96 H98.75 M86.45 930.52 H98.75"/>
<text class="lt m" transform="translate(68.6 1200.6) rotate(-90) scale(0.93 1)">0</text>
<text class="lt m" transform="translate(68.6 1162.16) rotate(-90) scale(0.93 1)">5</text>
<text class="lt m" transform="translate(68.6 1123.72) rotate(-90) scale(0.93 1)" dx="0 -1.4">10</text>
<text class="lt m" transform="translate(68.6 1046.84) rotate(-90) scale(0.93 1)">20</text>
<text class="lt m" transform="translate(68.6 969.96) rotate(-90) scale(0.93 1)">30</text>
<text class="yl m" transform="translate(18 1053.5) rotate(-90) scale(0.95 1)">GEL_8</text>
<text class="xl m" transform="translate(170.72 1246.35) scale(0.96 1)" dx="0 -0.73 -0.73">C&gt;A</text>
<text class="xl m" transform="translate(275.06 1246.35) scale(0.96 1)" dx="0 -0.73 -0.73">C&gt;G</text>
<text class="xl m" transform="translate(379.38 1246.35) scale(0.96 1)" dx="0 -0.73 -0.73">C&gt;T</text>
<text class="xl m" transform="translate(483.72 1246.35) scale(0.97 1)" dx="0 0 0 -0.72 -0.72 0 0">CpG&gt;TpG</text>
<text class="xl m" transform="translate(588.04 1246.35) scale(0.96 1)" dx="0 -0.73 -0.73">T&gt;A</text>
<text class="xl m" transform="translate(692.38 1246.35) scale(0.96 1)" dx="0 -0.73 -0.73">T&gt;C</text>
<text class="xl m" transform="translate(796.71 1246.35) scale(0.96 1)" dx="0 -0.73 -0.73">T&gt;G</text>
</g>
<g class="right">
<rect x="999.1" y="946.5" width="116.4" height="20" fill="#1E90FF"/>
<text class="tp m" transform="translate(1057.3 933.75) scale(0.96 1)" dx="0 -0.73 -0.73">C&gt;A</text>
<rect x="999.1" y="1126.62" width="4.4" height="73.67" fill="#2089E8"/>
<rect x="1006.56" y="1029.32" width="4.4" height="170.97" fill="#2089E8"/>
<rect x="1014.22" y="1199.7" width="4" height="1" fill="#7f9fbf" opacity="0.85"/>
<rect x="1021.67" y="1199.7" width="4" height="1" fill="#7f9fbf" opacity="0.85"/>
<rect x="1028.93" y="1175.27" width="4.4" height="25.02" fill="#2089E8"/>
<rect x="1036.39" y="1175.27" width="4.4" height="25.02" fill="#2089E8"/>
<rect x="1044.05" y="1199.7" width="4" height="1" fill="#7f9fbf" opacity="0.85"/>
<rect x="1051.51" y="1199.7" width="4" height="1" fill="#7f9fbf" opacity="0.85"/>
<rect x="1058.76" y="1175.27" width="4.4" height="25.02" fill="#2089E8"/>
<rect x="1066.22" y="1126.62" width="4.4" height="73.67" fill="#2089E8"/>
<rect x="1073.88" y="1199.7" width="4" height="1" fill="#7f9fbf" opacity="0.85"/>
<rect x="1081.14" y="1175.27" width="4.4" height="25.02" fill="#2089E8"/>
<rect x="1088.8" y="1199.7" width="4" height="1" fill="#7f9fbf" opacity="0.85"/>
<rect x="1096.05" y="1126.62" width="4.4" height="73.67" fill="#2089E8"/>
<rect x="1103.71" y="1199.7" width="4" height="1" fill="#7f9fbf" opacity="0.85"/>
<rect x="1110.97" y="1150.95" width="4.4" height="49.35" fill="#2089E8"/>
<text class="sm e" transform="translate(1006.05 1225.6) rotate(-90) scale(0.93 1)">ACA</text>
<text class="sm e" transform="translate(1020.97 1225.6) rotate(-90) scale(0.93 1)">ACG</text>
<text class="sm e" transform="translate(1035.88 1225.6) rotate(-90) scale(0.93 1)">CCA</text>
<text class="sm e" transform="translate(1050.8 1225.6) rotate(-90) scale(0.93 1)">CCG</text>
<text class="sm e" transform="translate(1065.71 1225.6) rotate(-90) scale(0.93 1)">GCA</text>
<text class="sm e" transform="translate(1080.63 1225.6) rotate(-90) scale(0.93 1)">GCG</text>
<text class="sm e" transform="translate(1095.55 1225.6) rotate(-90) scale(0.93 1)">TCA</text>
<text class="sm e" transform="translate(1110.46 1225.6) rotate(-90) scale(0.93 1)">TCG</text>
<rect x="1117.9" y="946.5" width="117.1" height="20" fill="#000000"/>
<text class="tp m" transform="translate(1176.1 933.75) scale(0.96 1)" dx="0 -0.73 -0.73">C&gt;G</text>
<rect x="1118.43" y="1126.62" width="4.4" height="73.67" fill="#000000"/>
<rect x="1125.89" y="1175.27" width="4.4" height="25.02" fill="#000000"/>
<rect x="1133.54" y="1199.7" width="4" height="1" fill="#333333" opacity="0.85"/>
<rect x="1140.8" y="1175.27" width="4.4" height="25.02" fill="#000000"/>
<rect x="1148.46" y="1199.7" width="4" height="1" fill="#333333" opacity="0.85"/>
<rect x="1155.92" y="1199.7" width="4" height="1" fill="#333333" opacity="0.85"/>
<rect x="1163.38" y="1199.7" width="4" height="1" fill="#333333" opacity="0.85"/>
<rect x="1170.63" y="1150.95" width="4.4" height="49.35" fill="#000000"/>
<rect x="1178.29" y="1199.7" width="4" height="1" fill="#333333" opacity="0.85"/>
<rect x="1185.75" y="1199.7" width="4" height="1" fill="#333333" opacity="0.85"/>
<rect x="1193.21" y="1199.7" width="4" height="1" fill="#333333" opacity="0.85"/>
<rect x="1200.67" y="1199.7" width="4" height="1" fill="#333333" opacity="0.85"/>
<rect x="1208.12" y="1199.7" width="4" height="1" fill="#333333" opacity="0.85"/>
<rect x="1215.58" y="1199.7" width="4" height="1" fill="#333333" opacity="0.85"/>
<rect x="1223.04" y="1199.7" width="4" height="1" fill="#333333" opacity="0.85"/>
<rect x="1230.3" y="1126.62" width="4.4" height="73.67" fill="#000000"/>
<text class="sm e" transform="translate(1125.38 1225.6) rotate(-90) scale(0.93 1)">ACA</text>
<text class="sm e" transform="translate(1140.29 1225.6) rotate(-90) scale(0.93 1)">ACG</text>
<text class="sm e" transform="translate(1155.21 1225.6) rotate(-90) scale(0.93 1)">CCA</text>
<text class="sm e" transform="translate(1170.13 1225.6) rotate(-90) scale(0.93 1)">CCG</text>
<text class="sm e" transform="translate(1185.04 1225.6) rotate(-90) scale(0.93 1)">GCA</text>
<text class="sm e" transform="translate(1199.96 1225.6) rotate(-90) scale(0.93 1)">GCG</text>
<text class="sm e" transform="translate(1214.87 1225.6) rotate(-90) scale(0.93 1)">TCA</text>
<text class="sm e" transform="translate(1229.79 1225.6) rotate(-90) scale(0.93 1)">TCG</text>
<rect x="1237.7" y="946.5" width="116.2" height="20" fill="#FF0000"/>
<text class="tp m" transform="translate(1295.9 933.75) scale(0.96 1)" dx="0 -0.73 -0.73">C&gt;T</text>
<rect x="1237.76" y="1150.95" width="4.4" height="49.35" fill="#E61010"/>
<rect x="1245.21" y="1175.27" width="4.4" height="25.02" fill="#E61010"/>
<rect x="1252.67" y="1126.62" width="4.4" height="73.67" fill="#E61010"/>
<rect x="1260.13" y="1175.27" width="4.4" height="25.02" fill="#E61010"/>
<rect x="1267.59" y="1175.27" width="4.4" height="25.02" fill="#E61010"/>
<rect x="1275.05" y="1077.97" width="4.4" height="122.33" fill="#E61010"/>
<rect x="1282.5" y="1077.97" width="4.4" height="122.33" fill="#E61010"/>
<rect x="1289.96" y="1005" width="4.4" height="195.3" fill="#E61010"/>
<rect x="1297.42" y="1150.95" width="4.4" height="49.35" fill="#E61010"/>
<rect x="1304.88" y="1102.3" width="4.4" height="98" fill="#E61010"/>
<rect x="1312.34" y="1053.65" width="4.4" height="146.65" fill="#E61010"/>
<rect x="1319.79" y="1102.3" width="4.4" height="98" fill="#E61010"/>
<rect x="1327.25" y="1150.95" width="4.4" height="49.35" fill="#E61010"/>
<rect x="1334.71" y="1126.62" width="4.4" height="73.67" fill="#E61010"/>
<rect x="1342.17" y="1175.27" width="4.4" height="25.02" fill="#E61010"/>
<rect x="1349.83" y="1199.7" width="4" height="1" fill="#bb5555" opacity="0.85"/>
<text class="sm e" transform="translate(1244.71 1225.6) rotate(-90) scale(0.93 1)">ACA</text>
<text class="sm e" transform="translate(1259.62 1225.6) rotate(-90) scale(0.93 1)">ACG</text>
<text class="sm e" transform="translate(1274.54 1225.6) rotate(-90) scale(0.93 1)">CCA</text>
<text class="sm e" transform="translate(1289.45 1225.6) rotate(-90) scale(0.93 1)">CCG</text>
<text class="sm e" transform="translate(1304.37 1225.6) rotate(-90) scale(0.93 1)">GCA</text>
<text class="sm e" transform="translate(1319.29 1225.6) rotate(-90) scale(0.93 1)">GCG</text>
<text class="sm e" transform="translate(1334.2 1225.6) rotate(-90) scale(0.93 1)">TCA</text>
<text class="sm e" transform="translate(1349.12 1225.6) rotate(-90) scale(0.93 1)">TCG</text>
<rect x="1357.5" y="946.5" width="115.7" height="20" fill="#B3B3B3"/>
<text class="tp m" transform="translate(1415.7 933.75) scale(0.96 1)" dx="0 -0.73 -0.73">T&gt;A</text>
<rect x="1357.08" y="1126.62" width="4.4" height="73.67" fill="#B0B0B0"/>
<rect x="1364.54" y="1077.97" width="4.4" height="122.33" fill="#B0B0B0"/>
<rect x="1372" y="1175.27" width="4.4" height="25.02" fill="#B0B0B0"/>
<rect x="1379.66" y="1199.7" width="4" height="1" fill="#a8a8a8" opacity="0.85"/>
<rect x="1387.12" y="1199.7" width="4" height="1" fill="#a8a8a8" opacity="0.85"/>
<rect x="1394.37" y="1150.95" width="4.4" height="49.35" fill="#B0B0B0"/>
<rect x="1402.03" y="1199.7" width="4" height="1" fill="#a8a8a8" opacity="0.85"/>
<rect x="1409.29" y="1175.27" width="4.4" height="25.02" fill="#B0B0B0"/>
<rect x="1416.95" y="1199.7" width="4" height="1" fill="#a8a8a8" opacity="0.85"/>
<rect x="1424.21" y="1175.27" width="4.4" height="25.02" fill="#B0B0B0"/>
<rect x="1431.66" y="1175.27" width="4.4" height="25.02" fill="#B0B0B0"/>
<rect x="1439.32" y="1199.7" width="4" height="1" fill="#a8a8a8" opacity="0.85"/>
<rect x="1446.78" y="1199.7" width="4" height="1" fill="#a8a8a8" opacity="0.85"/>
<rect x="1454.24" y="1199.7" width="4" height="1" fill="#a8a8a8" opacity="0.85"/>
<rect x="1461.7" y="1199.7" width="4" height="1" fill="#a8a8a8" opacity="0.85"/>
<rect x="1468.95" y="1175.27" width="4.4" height="25.02" fill="#B0B0B0"/>
<text class="sm e" transform="translate(1364.03 1225.6) rotate(-90) scale(0.93 1)" dx="0 -0.7 -0.7">ATA</text>
<text class="sm e" transform="translate(1378.95 1225.6) rotate(-90) scale(0.93 1)" dx="0 -0.7 0">ATG</text>
<text class="sm e" transform="translate(1393.87 1225.6) rotate(-90) scale(0.93 1)" dx="0 0 -0.7">CTA</text>
<text class="sm e" transform="translate(1408.78 1225.6) rotate(-90) scale(0.93 1)">CTG</text>
<text class="sm e" transform="translate(1423.7 1225.6) rotate(-90) scale(0.93 1)" dx="0 0 -0.7">GTA</text>
<text class="sm e" transform="translate(1438.61 1225.6) rotate(-90) scale(0.93 1)">GTG</text>
<text class="sm e" transform="translate(1453.53 1225.6) rotate(-90) scale(0.93 1)" dx="0 0 -0.7">TTA</text>
<text class="sm e" transform="translate(1468.45 1225.6) rotate(-90) scale(0.93 1)">TTG</text>
<rect x="1476" y="946.5" width="117.1" height="20" fill="#9ACD32"/>
<text class="tp m" transform="translate(1534.2 933.75) scale(0.96 1)" dx="0 -0.73 -0.73">T&gt;C</text>
<rect x="1476.41" y="1126.62" width="4.4" height="73.67" fill="#97C736"/>
<rect x="1484.07" y="1199.7" width="4" height="1" fill="#a4b08a" opacity="0.85"/>
<rect x="1491.33" y="1102.3" width="4.4" height="98" fill="#97C736"/>
<rect x="1498.79" y="1150.95" width="4.4" height="49.35" fill="#97C736"/>
<rect x="1506.24" y="1175.27" width="4.4" height="25.02" fill="#97C736"/>
<rect x="1513.7" y="1150.95" width="4.4" height="49.35" fill="#97C736"/>
<rect x="1521.16" y="1175.27" width="4.4" height="25.02" fill="#97C736"/>
<rect x="1528.82" y="1199.7" width="4" height="1" fill="#a4b08a" opacity="0.85"/>
<rect x="1536.08" y="1150.95" width="4.4" height="49.35" fill="#97C736"/>
<rect x="1543.73" y="1199.7" width="4" height="1" fill="#a4b08a" opacity="0.85"/>
<rect x="1550.99" y="1150.95" width="4.4" height="49.35" fill="#97C736"/>
<rect x="1558.65" y="1199.7" width="4" height="1" fill="#a4b08a" opacity="0.85"/>
<rect x="1565.91" y="1126.62" width="4.4" height="73.67" fill="#97C736"/>
<rect x="1573.37" y="1175.27" width="4.4" height="25.02" fill="#97C736"/>
<rect x="1580.82" y="1150.95" width="4.4" height="49.35" fill="#97C736"/>
<rect x="1588.28" y="1150.95" width="4.4" height="49.35" fill="#97C736"/>
<text class="sm e" transform="translate(1483.36 1225.6) rotate(-90) scale(0.93 1)" dx="0 -0.7 -0.7">ATA</text>
<text class="sm e" transform="translate(1498.28 1225.6) rotate(-90) scale(0.93 1)" dx="0 -0.7 0">ATG</text>
<text class="sm e" transform="translate(1513.19 1225.6) rotate(-90) scale(0.93 1)" dx="0 0 -0.7">CTA</text>
<text class="sm e" transform="translate(1528.11 1225.6) rotate(-90) scale(0.93 1)">CTG</text>
<text class="sm e" transform="translate(1543.03 1225.6) rotate(-90) scale(0.93 1)" dx="0 0 -0.7">GTA</text>
<text class="sm e" transform="translate(1557.94 1225.6) rotate(-90) scale(0.93 1)">GTG</text>
<text class="sm e" transform="translate(1572.86 1225.6) rotate(-90) scale(0.93 1)" dx="0 0 -0.7">TTA</text>
<text class="sm e" transform="translate(1587.77 1225.6) rotate(-90) scale(0.93 1)">TTG</text>
<rect x="1595.8" y="946.5" width="116.2" height="20" fill="#EEAEEE"/>
<text class="tp m" transform="translate(1654 933.75) scale(0.96 1)" dx="0 -0.73 -0.73">T&gt;G</text>
<rect x="1595.94" y="1199.7" width="4" height="1" fill="#bfa6bf" opacity="0.85"/>
<rect x="1603.2" y="1175.27" width="4.4" height="25.02" fill="#E6A8E6"/>
<rect x="1610.86" y="1199.7" width="4" height="1" fill="#bfa6bf" opacity="0.85"/>
<rect x="1618.11" y="1175.27" width="4.4" height="25.02" fill="#E6A8E6"/>
<rect x="1625.77" y="1199.7" width="4" height="1" fill="#bfa6bf" opacity="0.85"/>
<rect x="1633.23" y="1199.7" width="4" height="1" fill="#bfa6bf" opacity="0.85"/>
<rect x="1640.69" y="1199.7" width="4" height="1" fill="#bfa6bf" opacity="0.85"/>
<rect x="1647.95" y="1175.27" width="4.4" height="25.02" fill="#E6A8E6"/>
<rect x="1655.4" y="1150.95" width="4.4" height="49.35" fill="#E6A8E6"/>
<rect x="1662.86" y="1175.27" width="4.4" height="25.02" fill="#E6A8E6"/>
<rect x="1670.32" y="1175.27" width="4.4" height="25.02" fill="#E6A8E6"/>
<rect x="1677.78" y="1175.27" width="4.4" height="25.02" fill="#E6A8E6"/>
<rect x="1685.44" y="1199.7" width="4" height="1" fill="#bfa6bf" opacity="0.85"/>
<rect x="1692.89" y="1199.7" width="4" height="1" fill="#bfa6bf" opacity="0.85"/>
<rect x="1700.15" y="1175.27" width="4.4" height="25.02" fill="#E6A8E6"/>
<rect x="1707.61" y="1175.27" width="4.39" height="25.02" fill="#E6A8E6"/>
<text class="sm e" transform="translate(1602.69 1225.6) rotate(-90) scale(0.93 1)" dx="0 -0.7 -0.7">ATA</text>
<text class="sm e" transform="translate(1617.61 1225.6) rotate(-90) scale(0.93 1)" dx="0 -0.7 0">ATG</text>
<text class="sm e" transform="translate(1632.52 1225.6) rotate(-90) scale(0.93 1)" dx="0 0 -0.7">CTA</text>
<text class="sm e" transform="translate(1647.44 1225.6) rotate(-90) scale(0.93 1)">CTG</text>
<text class="sm e" transform="translate(1662.35 1225.6) rotate(-90) scale(0.93 1)" dx="0 0 -0.7">GTA</text>
<text class="sm e" transform="translate(1677.27 1225.6) rotate(-90) scale(0.93 1)">GTG</text>
<text class="sm e" transform="translate(1692.19 1225.6) rotate(-90) scale(0.93 1)" dx="0 0 -0.7">TTA</text>
<text class="sm e" transform="translate(1707.1 1225.6) rotate(-90) scale(0.93 1)">TTG</text>
<path class="ax" d="M971 907.4 V1199.9"/>
<path class="tk" d="M958.55 1199.6 H970.8 M958.55 1150.95 H970.8 M958.55 1102.3 H970.8 M958.55 1053.65 H970.8 M958.55 1005 H970.8 M958.55 956.35 H970.8 M958.55 907.7 H970.8"/>
<text class="rt e" transform="translate(945.3 1207.7) scale(0.95 1)">0</text>
<text class="rt e" transform="translate(945.3 1159.05) scale(0.95 1)">2</text>
<text class="rt e" transform="translate(945.3 1110.4) scale(0.95 1)">4</text>
<text class="rt e" transform="translate(945.3 1061.75) scale(0.95 1)">6</text>
<text class="rt e" transform="translate(945.3 1013.1) scale(0.95 1)">8</text>
<text class="rt e" transform="translate(945.3 964.45) scale(0.95 1)" dx="0 -1.37">10</text>
<text class="rt e" transform="translate(945.3 915.8) scale(0.95 1)" dx="0 -1.37">12</text>
<text class="yr m" transform="translate(889.05 1054) rotate(-90) scale(0.98 1)">count</text>
</g>
</g>
<g id="row-d">
<text class="pl s" transform="translate(1.5 1285.88) scale(1.01 1)"><tspan font-size="30.85px">(</tspan><tspan font-size="31.1px" dy="0.1">d</tspan><tspan font-size="30.85px" dy="-0.1">)</tspan></text>
<g class="left">
<rect x="127.35" y="1365.35" width="87.55" height="254.5" fill="#1E90FF"/>
<rect x="231.68" y="1559.74" width="87.55" height="60.11" fill="#000000"/>
<rect x="336.01" y="1380.3" width="87.55" height="239.55" fill="#FF0000"/>
<rect x="440.34" y="1544.79" width="87.55" height="75.06" fill="#FFC0CB"/>
<rect x="544.67" y="1544.79" width="87.55" height="75.06" fill="#B3B3B3"/>
<rect x="649" y="1410.21" width="87.55" height="209.64" fill="#9ACD32"/>
<rect x="753.33" y="1559.74" width="87.55" height="60.11" fill="#EEAEEE"/>
<path class="ax" d="M98.95 1395.2 V1619.65"/>
<path class="tk" d="M86.45 1619.35 H98.75 M86.45 1544.73 H98.75 M86.45 1470.11 H98.75 M86.45 1395.5 H98.75"/>
<text class="lt m" transform="translate(68.6 1620.35) rotate(-90) scale(0.93 1)">0</text>
<text class="lt m" transform="translate(68.6 1545.73) rotate(-90) scale(0.93 1)" dx="0 -1.4">10</text>
<text class="lt m" transform="translate(68.6 1471.11) rotate(-90) scale(0.93 1)">20</text>
<text class="lt m" transform="translate(68.6 1396.5) rotate(-90) scale(0.93 1)">30</text>
<text class="yl m" transform="translate(18 1473.25) rotate(-90) scale(0.95 1)">GEL_9</text>
<text class="xl m" transform="translate(170.72 1666.35) scale(0.96 1)" dx="0 -0.73 -0.73">C&gt;A</text>
<text class="xl m" transform="translate(275.06 1666.35) scale(0.96 1)" dx="0 -0.73 -0.73">C&gt;G</text>
<text class="xl m" transform="translate(379.38 1666.35) scale(0.96 1)" dx="0 -0.73 -0.73">C&gt;T</text>
<text class="xl m" transform="translate(483.72 1666.35) scale(0.97 1)" dx="0 0 0 -0.72 -0.72 0 0">CpG&gt;TpG</text>
<text class="xl m" transform="translate(588.04 1666.35) scale(0.96 1)" dx="0 -0.73 -0.73">T&gt;A</text>
<text class="xl m" transform="translate(692.38 1666.35) scale(0.96 1)" dx="0 -0.73 -0.73">T&gt;C</text>
<text class="xl m" transform="translate(796.71 1666.35) scale(0.96 1)" dx="0 -0.73 -0.73">T&gt;G</text>
</g>
<g class="right">
<rect x="999.1" y="1366.25" width="116.4" height="20" fill="#1E90FF"/>
<text class="tp m" transform="translate(1057.3 1353.65) scale(0.96 1)" dx="0 -0.73 -0.73">C&gt;A</text>
<rect x="999.1" y="1599.89" width="4.4" height="20.16" fill="#2089E8"/>
<rect x="1006.56" y="1444.21" width="4.4" height="175.84" fill="#2089E8"/>
<rect x="1014.22" y="1619.45" width="4" height="1" fill="#7f9fbf" opacity="0.85"/>
<rect x="1021.47" y="1599.89" width="4.4" height="20.16" fill="#2089E8"/>
<rect x="1028.93" y="1560.97" width="4.4" height="59.08" fill="#2089E8"/>
<rect x="1036.39" y="1541.51" width="4.4" height="78.54" fill="#2089E8"/>
<rect x="1044.05" y="1619.45" width="4" height="1" fill="#7f9fbf" opacity="0.85"/>
<rect x="1051.31" y="1580.43" width="4.4" height="39.62" fill="#2089E8"/>
<rect x="1058.76" y="1580.43" width="4.4" height="39.62" fill="#2089E8"/>
<rect x="1066.22" y="1541.51" width="4.4" height="78.54" fill="#2089E8"/>
<rect x="1073.88" y="1619.45" width="4" height="1" fill="#7f9fbf" opacity="0.85"/>
<rect x="1081.14" y="1599.89" width="4.4" height="20.16" fill="#2089E8"/>
<rect x="1088.8" y="1619.45" width="4" height="1" fill="#7f9fbf" opacity="0.85"/>
<rect x="1096.05" y="1541.51" width="4.4" height="78.54" fill="#2089E8"/>
<rect x="1103.71" y="1619.45" width="4" height="1" fill="#7f9fbf" opacity="0.85"/>
<rect x="1110.97" y="1560.97" width="4.4" height="59.08" fill="#2089E8"/>
<text class="sm e" transform="translate(1006.05 1645.35) rotate(-90) scale(0.93 1)">ACA</text>
<text class="sm e" transform="translate(1020.97 1645.35) rotate(-90) scale(0.93 1)">ACG</text>
<text class="sm e" transform="translate(1035.88 1645.35) rotate(-90) scale(0.93 1)">CCA</text>
<text class="sm e" transform="translate(1050.8 1645.35) rotate(-90) scale(0.93 1)">CCG</text>
<text class="sm e" transform="translate(1065.71 1645.35) rotate(-90) scale(0.93 1)">GCA</text>
<text class="sm e" transform="translate(1080.63 1645.35) rotate(-90) scale(0.93 1)">GCG</text>
<text class="sm e" transform="translate(1095.55 1645.35) rotate(-90) scale(0.93 1)">TCA</text>
<text class="sm e" transform="translate(1110.46 1645.35) rotate(-90) scale(0.93 1)">TCG</text>
<rect x="1117.9" y="1366.25" width="117.1" height="20" fill="#000000"/>
<text class="tp m" transform="translate(1176.1 1353.65) scale(0.96 1)" dx="0 -0.73 -0.73">C&gt;G</text>
<rect x="1118.63" y="1619.45" width="4" height="1" fill="#333333" opacity="0.85"/>
<rect x="1125.89" y="1599.89" width="4.4" height="20.16" fill="#000000"/>
<rect x="1133.54" y="1619.45" width="4" height="1" fill="#333333" opacity="0.85"/>
<rect x="1141" y="1619.45" width="4" height="1" fill="#333333" opacity="0.85"/>
<rect x="1148.26" y="1599.89" width="4.4" height="20.16" fill="#000000"/>
<rect x="1155.92" y="1619.45" width="4" height="1" fill="#333333" opacity="0.85"/>
<rect x="1163.38" y="1619.45" width="4" height="1" fill="#333333" opacity="0.85"/>
<rect x="1170.63" y="1599.89" width="4.4" height="20.16" fill="#000000"/>
<rect x="1178.09" y="1599.89" width="4.4" height="20.16" fill="#000000"/>
<rect x="1185.55" y="1599.89" width="4.4" height="20.16" fill="#000000"/>
<rect x="1193.21" y="1619.45" width="4" height="1" fill="#333333" opacity="0.85"/>
<rect x="1200.47" y="1599.89" width="4.4" height="20.16" fill="#000000"/>
<rect x="1208.12" y="1619.45" width="4" height="1" fill="#333333" opacity="0.85"/>
<rect x="1215.38" y="1599.89" width="4.4" height="20.16" fill="#000000"/>
<rect x="1223.04" y="1619.45" width="4" height="1" fill="#333333" opacity="0.85"/>
<rect x="1230.3" y="1599.89" width="4.4" height="20.16" fill="#000000"/>
<text class="sm e" transform="translate(1125.38 1645.35) rotate(-90) scale(0.93 1)">ACA</text>
<text class="sm e" transform="translate(1140.29 1645.35) rotate(-90) scale(0.93 1)">ACG</text>
<text class="sm e" transform="translate(1155.21 1645.35) rotate(-90) scale(0.93 1)">CCA</text>
<text class="sm e" transform="translate(1170.13 1645.35) rotate(-90) scale(0.93 1)">CCG</text>
<text class="sm e" transform="translate(1185.04 1645.35) rotate(-90) scale(0.93 1)">GCA</text>
<text class="sm e" transform="translate(1199.96 1645.35) rotate(-90) scale(0.93 1)">GCG</text>
<text class="sm e" transform="translate(1214.87 1645.35) rotate(-90) scale(0.93 1)">TCA</text>
<text class="sm e" transform="translate(1229.79 1645.35) rotate(-90) scale(0.93 1)">TCG</text>
<rect x="1237.7" y="1366.25" width="116.2" height="20" fill="#FF0000"/>
<text class="tp m" transform="translate(1295.9 1353.65) scale(0.96 1)" dx="0 -0.73 -0.73">C&gt;T</text>
<rect x="1237.76" y="1599.89" width="4.4" height="20.16" fill="#E61010"/>
<rect x="1245.21" y="1580.43" width="4.4" height="39.62" fill="#E61010"/>
<rect x="1252.67" y="1580.43" width="4.4" height="39.62" fill="#E61010"/>
<rect x="1260.13" y="1560.97" width="4.4" height="59.08" fill="#E61010"/>
<rect x="1267.79" y="1619.45" width="4" height="1" fill="#bb5555" opacity="0.85"/>
<rect x="1275.05" y="1444.21" width="4.4" height="175.84" fill="#E61010"/>
<rect x="1282.5" y="1599.89" width="4.4" height="20.16" fill="#E61010"/>
<rect x="1289.96" y="1424.75" width="4.4" height="195.3" fill="#E61010"/>
<rect x="1297.42" y="1580.43" width="4.4" height="39.62" fill="#E61010"/>
<rect x="1304.88" y="1599.89" width="4.4" height="20.16" fill="#E61010"/>
<rect x="1312.34" y="1541.51" width="4.4" height="78.54" fill="#E61010"/>
<rect x="1319.79" y="1580.43" width="4.4" height="39.62" fill="#E61010"/>
<rect x="1327.45" y="1619.45" width="4" height="1" fill="#bb5555" opacity="0.85"/>
<rect x="1334.71" y="1580.43" width="4.4" height="39.62" fill="#E61010"/>
<rect x="1342.17" y="1560.97" width="4.4" height="59.08" fill="#E61010"/>
<rect x="1349.83" y="1619.45" width="4" height="1" fill="#bb5555" opacity="0.85"/>
<text class="sm e" transform="translate(1244.71 1645.35) rotate(-90) scale(0.93 1)">ACA</text>
<text class="sm e" transform="translate(1259.62 1645.35) rotate(-90) scale(0.93 1)">ACG</text>
<text class="sm e" transform="translate(1274.54 1645.35) rotate(-90) scale(0.93 1)">CCA</text>
<text class="sm e" transform="translate(1289.45 1645.35) rotate(-90) scale(0.93 1)">CCG</text>
<text class="sm e" transform="translate(1304.37 1645.35) rotate(-90) scale(0.93 1)">GCA</text>
<text class="sm e" transform="translate(1319.29 1645.35) rotate(-90) scale(0.93 1)">GCG</text>
<text class="sm e" transform="translate(1334.2 1645.35) rotate(-90) scale(0.93 1)">TCA</text>
<text class="sm e" transform="translate(1349.12 1645.35) rotate(-90) scale(0.93 1)">TCG</text>
<rect x="1357.5" y="1366.25" width="115.7" height="20" fill="#B3B3B3"/>
<text class="tp m" transform="translate(1415.7 1353.65) scale(0.96 1)" dx="0 -0.73 -0.73">T&gt;A</text>
<rect x="1357.08" y="1599.89" width="4.4" height="20.16" fill="#B0B0B0"/>
<rect x="1364.74" y="1619.45" width="4" height="1" fill="#a8a8a8" opacity="0.85"/>
<rect x="1372.2" y="1619.45" width="4" height="1" fill="#a8a8a8" opacity="0.85"/>
<rect x="1379.66" y="1619.45" width="4" height="1" fill="#a8a8a8" opacity="0.85"/>
<rect x="1386.92" y="1599.89" width="4.4" height="20.16" fill="#B0B0B0"/>
<rect x="1394.37" y="1541.51" width="4.4" height="78.54" fill="#B0B0B0"/>
<rect x="1402.03" y="1619.45" width="4" height="1" fill="#a8a8a8" opacity="0.85"/>
<rect x="1409.49" y="1619.45" width="4" height="1" fill="#a8a8a8" opacity="0.85"/>
<rect x="1416.75" y="1599.89" width="4.4" height="20.16" fill="#B0B0B0"/>
<rect x="1424.21" y="1599.89" width="4.4" height="20.16" fill="#B0B0B0"/>
<rect x="1431.86" y="1619.45" width="4" height="1" fill="#a8a8a8" opacity="0.85"/>
<rect x="1439.32" y="1619.45" width="4" height="1" fill="#a8a8a8" opacity="0.85"/>
<rect x="1446.58" y="1599.89" width="4.4" height="20.16" fill="#B0B0B0"/>
<rect x="1454.24" y="1619.45" width="4" height="1" fill="#a8a8a8" opacity="0.85"/>
<rect x="1461.5" y="1599.89" width="4.4" height="20.16" fill="#B0B0B0"/>
<rect x="1469.15" y="1619.45" width="4" height="1" fill="#a8a8a8" opacity="0.85"/>
<text class="sm e" transform="translate(1364.03 1645.35) rotate(-90) scale(0.93 1)" dx="0 -0.7 -0.7">ATA</text>
<text class="sm e" transform="translate(1378.95 1645.35) rotate(-90) scale(0.93 1)" dx="0 -0.7 0">ATG</text>
<text class="sm e" transform="translate(1393.87 1645.35) rotate(-90) scale(0.93 1)" dx="0 0 -0.7">CTA</text>
<text class="sm e" transform="translate(1408.78 1645.35) rotate(-90) scale(0.93 1)">CTG</text>
<text class="sm e" transform="translate(1423.7 1645.35) rotate(-90) scale(0.93 1)" dx="0 0 -0.7">GTA</text>
<text class="sm e" transform="translate(1438.61 1645.35) rotate(-90) scale(0.93 1)">GTG</text>
<text class="sm e" transform="translate(1453.53 1645.35) rotate(-90) scale(0.93 1)" dx="0 0 -0.7">TTA</text>
<text class="sm e" transform="translate(1468.45 1645.35) rotate(-90) scale(0.93 1)">TTG</text>
<rect x="1476" y="1366.25" width="117.1" height="20" fill="#9ACD32"/>
<text class="tp m" transform="translate(1534.2 1353.65) scale(0.96 1)" dx="0 -0.73 -0.73">T&gt;C</text>
<rect x="1476.41" y="1560.97" width="4.4" height="59.08" fill="#97C736"/>
<rect x="1483.87" y="1599.89" width="4.4" height="20.16" fill="#97C736"/>
<rect x="1491.33" y="1560.97" width="4.4" height="59.08" fill="#97C736"/>
<rect x="1498.79" y="1541.51" width="4.4" height="78.54" fill="#97C736"/>
<rect x="1506.24" y="1541.51" width="4.4" height="78.54" fill="#97C736"/>
<rect x="1513.9" y="1619.45" width="4" height="1" fill="#a4b08a" opacity="0.85"/>
<rect x="1521.16" y="1599.89" width="4.4" height="20.16" fill="#97C736"/>
<rect x="1528.82" y="1619.45" width="4" height="1" fill="#a4b08a" opacity="0.85"/>
<rect x="1536.08" y="1599.89" width="4.4" height="20.16" fill="#97C736"/>
<rect x="1543.53" y="1599.89" width="4.4" height="20.16" fill="#97C736"/>
<rect x="1551.19" y="1619.45" width="4" height="1" fill="#a4b08a" opacity="0.85"/>
<rect x="1558.45" y="1599.89" width="4.4" height="20.16" fill="#97C736"/>
<rect x="1565.91" y="1580.43" width="4.4" height="39.62" fill="#97C736"/>
<rect x="1573.37" y="1580.43" width="4.4" height="39.62" fill="#97C736"/>
<rect x="1580.82" y="1599.89" width="4.4" height="20.16" fill="#97C736"/>
<rect x="1588.28" y="1541.51" width="4.4" height="78.54" fill="#97C736"/>
<text class="sm e" transform="translate(1483.36 1645.35) rotate(-90) scale(0.93 1)" dx="0 -0.7 -0.7">ATA</text>
<text class="sm e" transform="translate(1498.28 1645.35) rotate(-90) scale(0.93 1)" dx="0 -0.7 0">ATG</text>
<text class="sm e" transform="translate(1513.19 1645.35) rotate(-90) scale(0.93 1)" dx="0 0 -0.7">CTA</text>
<text class="sm e" transform="translate(1528.11 1645.35) rotate(-90) scale(0.93 1)">CTG</text>
<text class="sm e" transform="translate(1543.03 1645.35) rotate(-90) scale(0.93 1)" dx="0 0 -0.7">GTA</text>
<text class="sm e" transform="translate(1557.94 1645.35) rotate(-90) scale(0.93 1)">GTG</text>
<text class="sm e" transform="translate(1572.86 1645.35) rotate(-90) scale(0.93 1)" dx="0 0 -0.7">TTA</text>
<text class="sm e" transform="translate(1587.77 1645.35) rotate(-90) scale(0.93 1)">TTG</text>
<rect x="1595.8" y="1366.25" width="116.2" height="20" fill="#EEAEEE"/>
<text class="tp m" transform="translate(1654 1353.65) scale(0.96 1)" dx="0 -0.73 -0.73">T&gt;G</text>
<rect x="1595.74" y="1580.43" width="4.4" height="39.62" fill="#E6A8E6"/>
<rect x="1603.2" y="1599.89" width="4.4" height="20.16" fill="#E6A8E6"/>
<rect x="1610.86" y="1619.45" width="4" height="1" fill="#bfa6bf" opacity="0.85"/>
<rect x="1618.11" y="1599.89" width="4.4" height="20.16" fill="#E6A8E6"/>
<rect x="1625.77" y="1619.45" width="4" height="1" fill="#bfa6bf" opacity="0.85"/>
<rect x="1633.23" y="1619.45" width="4" height="1" fill="#bfa6bf" opacity="0.85"/>
<rect x="1640.69" y="1619.45" width="4" height="1" fill="#bfa6bf" opacity="0.85"/>
<rect x="1648.15" y="1619.45" width="4" height="1" fill="#bfa6bf" opacity="0.85"/>
<rect x="1655.4" y="1599.89" width="4.4" height="20.16" fill="#E6A8E6"/>
<rect x="1663.06" y="1619.45" width="4" height="1" fill="#bfa6bf" opacity="0.85"/>
<rect x="1670.32" y="1599.89" width="4.4" height="20.16" fill="#E6A8E6"/>
<rect x="1677.78" y="1599.89" width="4.4" height="20.16" fill="#E6A8E6"/>
<rect x="1685.44" y="1619.45" width="4" height="1" fill="#bfa6bf" opacity="0.85"/>
<rect x="1692.89" y="1619.45" width="4" height="1" fill="#bfa6bf" opacity="0.85"/>
<rect x="1700.35" y="1619.45" width="4" height="1" fill="#bfa6bf" opacity="0.85"/>
<rect x="1707.61" y="1599.89" width="4.39" height="20.16" fill="#E6A8E6"/>
<text class="sm e" transform="translate(1602.69 1645.35) rotate(-90) scale(0.93 1)" dx="0 -0.7 -0.7">ATA</text>
<text class="sm e" transform="translate(1617.61 1645.35) rotate(-90) scale(0.93 1)" dx="0 -0.7 0">ATG</text>
<text class="sm e" transform="translate(1632.52 1645.35) rotate(-90) scale(0.93 1)" dx="0 0 -0.7">CTA</text>
<text class="sm e" transform="translate(1647.44 1645.35) rotate(-90) scale(0.93 1)">CTG</text>
<text class="sm e" transform="translate(1662.35 1645.35) rotate(-90) scale(0.93 1)" dx="0 0 -0.7">GTA</text>
<text class="sm e" transform="translate(1677.27 1645.35) rotate(-90) scale(0.93 1)">GTG</text>
<text class="sm e" transform="translate(1692.19 1645.35) rotate(-90) scale(0.93 1)" dx="0 0 -0.7">TTA</text>
<text class="sm e" transform="translate(1707.1 1645.35) rotate(-90) scale(0.93 1)">TTG</text>
<path class="ax" d="M971 1346.61 V1619.65"/>
<path class="tk" d="M958.55 1619.35 H970.8 M958.55 1580.43 H970.8 M958.55 1541.51 H970.8 M958.55 1502.59 H970.8 M958.55 1463.67 H970.8 M958.55 1424.75 H970.8 M958.55 1385.83 H970.8 M958.55 1346.91 H970.8"/>
<text class="rt e" transform="translate(945.3 1627.45) scale(0.95 1)">0</text>
<text class="rt e" transform="translate(945.3 1588.53) scale(0.95 1)">2</text>
<text class="rt e" transform="translate(945.3 1549.61) scale(0.95 1)">4</text>
<text class="rt e" transform="translate(945.3 1510.69) scale(0.95 1)">6</text>
<text class="rt e" transform="translate(945.3 1471.77) scale(0.95 1)">8</text>
<text class="rt e" transform="translate(945.3 1432.85) scale(0.95 1)" dx="0 -1.37">10</text>
<text class="rt e" transform="translate(945.3 1393.93) scale(0.95 1)" dx="0 -1.37">12</text>
<text class="rt e" transform="translate(945.3 1355.01) scale(0.95 1)" dx="0 -1.37">14</text>
<text class="yr m" transform="translate(889.05 1473.75) rotate(-90) scale(0.98 1)">count</text>
</g>
</g>
<g id="row-e">
<text class="pl s" transform="translate(1.5 1705.63) scale(1.01 1)"><tspan font-size="30.85px">(</tspan><tspan font-size="33.4px" dy="0.9">e</tspan><tspan font-size="30.85px" dy="-0.9">)</tspan></text>
<g class="left">
<rect x="127.35" y="1915.83" width="87.55" height="123.77" fill="#1E90FF"/>
<rect x="231.68" y="1879.52" width="87.55" height="160.08" fill="#000000"/>
<rect x="336.01" y="1879.52" width="87.55" height="160.08" fill="#FF0000"/>
<rect x="440.34" y="1973.93" width="87.55" height="65.67" fill="#FFC0CB"/>
<rect x="544.67" y="1973.93" width="87.55" height="65.67" fill="#B3B3B3"/>
<rect x="649" y="1785.1" width="87.55" height="254.5" fill="#9ACD32"/>
<rect x="753.33" y="1973.93" width="87.55" height="65.67" fill="#EEAEEE"/>
<path class="ax" d="M98.95 1748.86 V2039.4"/>
<path class="tk" d="M86.45 2039.1 H98.75 M86.45 1966.61 H98.75 M86.45 1894.13 H98.75 M86.45 1821.64 H98.75 M86.45 1749.16 H98.75"/>
<text class="lt m" transform="translate(68.6 2040.1) rotate(-90) scale(0.93 1)">0</text>
<text class="lt m" transform="translate(68.6 1967.61) rotate(-90) scale(0.93 1)" dx="0 -1.4">10</text>
<text class="lt m" transform="translate(68.6 1895.13) rotate(-90) scale(0.93 1)">20</text>
<text class="lt m" transform="translate(68.6 1822.64) rotate(-90) scale(0.93 1)">30</text>
<text class="lt m" transform="translate(68.6 1750.16) rotate(-90) scale(0.93 1)">40</text>
<text class="yl m" transform="translate(18 1894.25) rotate(-90) scale(0.95 1)" dx="0 0 0 0 0 -1.37">GEL_10</text>
<text class="xl m" transform="translate(170.72 2086.35) scale(0.96 1)" dx="0 -0.73 -0.73">C&gt;A</text>
<text class="xl m" transform="translate(275.06 2086.35) scale(0.96 1)" dx="0 -0.73 -0.73">C&gt;G</text>
<text class="xl m" transform="translate(379.38 2086.35) scale(0.96 1)" dx="0 -0.73 -0.73">C&gt;T</text>
<text class="xl m" transform="translate(483.72 2086.35) scale(0.97 1)" dx="0 0 0 -0.72 -0.72 0 0">CpG&gt;TpG</text>
<text class="xl m" transform="translate(588.04 2086.35) scale(0.96 1)" dx="0 -0.73 -0.73">T&gt;A</text>
<text class="xl m" transform="translate(692.38 2086.35) scale(0.96 1)" dx="0 -0.73 -0.73">T&gt;C</text>
<text class="xl m" transform="translate(796.71 2086.35) scale(0.96 1)" dx="0 -0.73 -0.73">T&gt;G</text>
</g>
<g class="right">
<rect x="999.1" y="1786" width="116.4" height="20" fill="#1E90FF"/>
<text class="tp m" transform="translate(1057.3 1773.55) scale(0.96 1)" dx="0 -0.73 -0.73">C&gt;A</text>
<rect x="999.1" y="1990.45" width="4.4" height="49.35" fill="#2089E8"/>
<rect x="1006.56" y="1990.45" width="4.4" height="49.35" fill="#2089E8"/>
<rect x="1014.22" y="2039.2" width="4" height="1" fill="#7f9fbf" opacity="0.85"/>
<rect x="1021.47" y="1990.45" width="4.4" height="49.35" fill="#2089E8"/>
<rect x="1028.93" y="2014.77" width="4.4" height="25.02" fill="#2089E8"/>
<rect x="1036.39" y="1990.45" width="4.4" height="49.35" fill="#2089E8"/>
<rect x="1044.05" y="2039.2" width="4" height="1" fill="#7f9fbf" opacity="0.85"/>
<rect x="1051.31" y="1990.45" width="4.4" height="49.35" fill="#2089E8"/>
<rect x="1058.76" y="1990.45" width="4.4" height="49.35" fill="#2089E8"/>
<rect x="1066.22" y="2014.77" width="4.4" height="25.02" fill="#2089E8"/>
<rect x="1073.88" y="2039.2" width="4" height="1" fill="#7f9fbf" opacity="0.85"/>
<rect x="1081.34" y="2039.2" width="4" height="1" fill="#7f9fbf" opacity="0.85"/>
<rect x="1088.6" y="2014.77" width="4.4" height="25.02" fill="#2089E8"/>
<rect x="1096.05" y="2014.77" width="4.4" height="25.02" fill="#2089E8"/>
<rect x="1103.71" y="2039.2" width="4" height="1" fill="#7f9fbf" opacity="0.85"/>
<rect x="1110.97" y="2014.77" width="4.4" height="25.02" fill="#2089E8"/>
<text class="sm e" transform="translate(1006.05 2065.1) rotate(-90) scale(0.93 1)">ACA</text>
<text class="sm e" transform="translate(1020.97 2065.1) rotate(-90) scale(0.93 1)">ACG</text>
<text class="sm e" transform="translate(1035.88 2065.1) rotate(-90) scale(0.93 1)">CCA</text>
<text class="sm e" transform="translate(1050.8 2065.1) rotate(-90) scale(0.93 1)">CCG</text>
<text class="sm e" transform="translate(1065.71 2065.1) rotate(-90) scale(0.93 1)">GCA</text>
<text class="sm e" transform="translate(1080.63 2065.1) rotate(-90) scale(0.93 1)">GCG</text>
<text class="sm e" transform="translate(1095.55 2065.1) rotate(-90) scale(0.93 1)">TCA</text>
<text class="sm e" transform="translate(1110.46 2065.1) rotate(-90) scale(0.93 1)">TCG</text>
<rect x="1117.9" y="1786" width="117.1" height="20" fill="#000000"/>
<text class="tp m" transform="translate(1176.1 1773.55) scale(0.96 1)" dx="0 -0.73 -0.73">C&gt;G</text>
<rect x="1118.43" y="1990.45" width="4.4" height="49.35" fill="#000000"/>
<rect x="1125.89" y="2014.77" width="4.4" height="25.02" fill="#000000"/>
<rect x="1133.54" y="2039.2" width="4" height="1" fill="#333333" opacity="0.85"/>
<rect x="1140.8" y="1917.47" width="4.4" height="122.33" fill="#000000"/>
<rect x="1148.26" y="2014.77" width="4.4" height="25.02" fill="#000000"/>
<rect x="1155.72" y="2014.77" width="4.4" height="25.02" fill="#000000"/>
<rect x="1163.38" y="2039.2" width="4" height="1" fill="#333333" opacity="0.85"/>
<rect x="1170.63" y="1941.8" width="4.4" height="98" fill="#000000"/>
<rect x="1178.09" y="2014.77" width="4.4" height="25.02" fill="#000000"/>
<rect x="1185.55" y="2014.77" width="4.4" height="25.02" fill="#000000"/>
<rect x="1193.21" y="2039.2" width="4" height="1" fill="#333333" opacity="0.85"/>
<rect x="1200.47" y="2014.77" width="4.4" height="25.02" fill="#000000"/>
<rect x="1207.92" y="2014.77" width="4.4" height="25.02" fill="#000000"/>
<rect x="1215.38" y="2014.77" width="4.4" height="25.02" fill="#000000"/>
<rect x="1223.04" y="2039.2" width="4" height="1" fill="#333333" opacity="0.85"/>
<rect x="1230.3" y="1966.12" width="4.4" height="73.67" fill="#000000"/>
<text class="sm e" transform="translate(1125.38 2065.1) rotate(-90) scale(0.93 1)">ACA</text>
<text class="sm e" transform="translate(1140.29 2065.1) rotate(-90) scale(0.93 1)">ACG</text>
<text class="sm e" transform="translate(1155.21 2065.1) rotate(-90) scale(0.93 1)">CCA</text>
<text class="sm e" transform="translate(1170.13 2065.1) rotate(-90) scale(0.93 1)">CCG</text>
<text class="sm e" transform="translate(1185.04 2065.1) rotate(-90) scale(0.93 1)">GCA</text>
<text class="sm e" transform="translate(1199.96 2065.1) rotate(-90) scale(0.93 1)">GCG</text>
<text class="sm e" transform="translate(1214.87 2065.1) rotate(-90) scale(0.93 1)">TCA</text>
<text class="sm e" transform="translate(1229.79 2065.1) rotate(-90) scale(0.93 1)">TCG</text>
<rect x="1237.7" y="1786" width="116.2" height="20" fill="#FF0000"/>
<text class="tp m" transform="translate(1295.9 1773.55) scale(0.96 1)" dx="0 -0.73 -0.73">C&gt;T</text>
<rect x="1237.76" y="1941.8" width="4.4" height="98" fill="#E61010"/>
<rect x="1245.21" y="2014.77" width="4.4" height="25.02" fill="#E61010"/>
<rect x="1252.67" y="1966.12" width="4.4" height="73.67" fill="#E61010"/>
<rect x="1260.13" y="2014.77" width="4.4" height="25.02" fill="#E61010"/>
<rect x="1267.59" y="1990.45" width="4.4" height="49.35" fill="#E61010"/>
<rect x="1275.05" y="1966.12" width="4.4" height="73.67" fill="#E61010"/>
<rect x="1282.5" y="1941.8" width="4.4" height="98" fill="#E61010"/>
<rect x="1289.96" y="1966.12" width="4.4" height="73.67" fill="#E61010"/>
<rect x="1297.42" y="2014.77" width="4.4" height="25.02" fill="#E61010"/>
<rect x="1304.88" y="2014.77" width="4.4" height="25.02" fill="#E61010"/>
<rect x="1312.34" y="2014.77" width="4.4" height="25.02" fill="#E61010"/>
<rect x="1319.99" y="2039.2" width="4" height="1" fill="#bb5555" opacity="0.85"/>
<rect x="1327.25" y="1990.45" width="4.4" height="49.35" fill="#E61010"/>
<rect x="1334.71" y="1990.45" width="4.4" height="49.35" fill="#E61010"/>
<rect x="1342.17" y="2014.77" width="4.4" height="25.02" fill="#E61010"/>
<rect x="1349.63" y="1990.45" width="4.4" height="49.35" fill="#E61010"/>
<text class="sm e" transform="translate(1244.71 2065.1) rotate(-90) scale(0.93 1)">ACA</text>
<text class="sm e" transform="translate(1259.62 2065.1) rotate(-90) scale(0.93 1)">ACG</text>
<text class="sm e" transform="translate(1274.54 2065.1) rotate(-90) scale(0.93 1)">CCA</text>
<text class="sm e" transform="translate(1289.45 2065.1) rotate(-90) scale(0.93 1)">CCG</text>
<text class="sm e" transform="translate(1304.37 2065.1) rotate(-90) scale(0.93 1)">GCA</text>
<text class="sm e" transform="translate(1319.29 2065.1) rotate(-90) scale(0.93 1)">GCG</text>
<text class="sm e" transform="translate(1334.2 2065.1) rotate(-90) scale(0.93 1)">TCA</text>
<text class="sm e" transform="translate(1349.12 2065.1) rotate(-90) scale(0.93 1)">TCG</text>
<rect x="1357.5" y="1786" width="115.7" height="20" fill="#B3B3B3"/>
<text class="tp m" transform="translate(1415.7 1773.55) scale(0.96 1)" dx="0 -0.73 -0.73">T&gt;A</text>
<rect x="1357.28" y="2039.2" width="4" height="1" fill="#a8a8a8" opacity="0.85"/>
<rect x="1364.54" y="1941.8" width="4.4" height="98" fill="#B0B0B0"/>
<rect x="1372" y="2014.77" width="4.4" height="25.02" fill="#B0B0B0"/>
<rect x="1379.46" y="2014.77" width="4.4" height="25.02" fill="#B0B0B0"/>
<rect x="1387.12" y="2039.2" width="4" height="1" fill="#a8a8a8" opacity="0.85"/>
<rect x="1394.57" y="2039.2" width="4" height="1" fill="#a8a8a8" opacity="0.85"/>
<rect x="1402.03" y="2039.2" width="4" height="1" fill="#a8a8a8" opacity="0.85"/>
<rect x="1409.49" y="2039.2" width="4" height="1" fill="#a8a8a8" opacity="0.85"/>
<rect x="1416.95" y="2039.2" width="4" height="1" fill="#a8a8a8" opacity="0.85"/>
<rect x="1424.21" y="2014.77" width="4.4" height="25.02" fill="#B0B0B0"/>
<rect x="1431.66" y="2014.77" width="4.4" height="25.02" fill="#B0B0B0"/>
<rect x="1439.32" y="2039.2" width="4" height="1" fill="#a8a8a8" opacity="0.85"/>
<rect x="1446.78" y="2039.2" width="4" height="1" fill="#a8a8a8" opacity="0.85"/>
<rect x="1454.24" y="2039.2" width="4" height="1" fill="#a8a8a8" opacity="0.85"/>
<rect x="1461.7" y="2039.2" width="4" height="1" fill="#a8a8a8" opacity="0.85"/>
<rect x="1468.95" y="2014.77" width="4.4" height="25.02" fill="#B0B0B0"/>
<text class="sm e" transform="translate(1364.03 2065.1) rotate(-90) scale(0.93 1)" dx="0 -0.7 -0.7">ATA</text>
<text class="sm e" transform="translate(1378.95 2065.1) rotate(-90) scale(0.93 1)" dx="0 -0.7 0">ATG</text>
<text class="sm e" transform="translate(1393.87 2065.1) rotate(-90) scale(0.93 1)" dx="0 0 -0.7">CTA</text>
<text class="sm e" transform="translate(1408.78 2065.1) rotate(-90) scale(0.93 1)">CTG</text>
<text class="sm e" transform="translate(1423.7 2065.1) rotate(-90) scale(0.93 1)" dx="0 0 -0.7">GTA</text>
<text class="sm e" transform="translate(1438.61 2065.1) rotate(-90) scale(0.93 1)">GTG</text>
<text class="sm e" transform="translate(1453.53 2065.1) rotate(-90) scale(0.93 1)" dx="0 0 -0.7">TTA</text>
<text class="sm e" transform="translate(1468.45 2065.1) rotate(-90) scale(0.93 1)">TTG</text>
<rect x="1476" y="1786" width="117.1" height="20" fill="#9ACD32"/>
<text class="tp m" transform="translate(1534.2 1773.55) scale(0.96 1)" dx="0 -0.73 -0.73">T&gt;C</text>
<rect x="1476.41" y="1917.47" width="4.4" height="122.33" fill="#97C736"/>
<rect x="1483.87" y="2014.77" width="4.4" height="25.02" fill="#97C736"/>
<rect x="1491.33" y="1990.45" width="4.4" height="49.35" fill="#97C736"/>
<rect x="1498.79" y="1844.5" width="4.4" height="195.3" fill="#97C736"/>
<rect x="1506.24" y="1990.45" width="4.4" height="49.35" fill="#97C736"/>
<rect x="1513.7" y="1990.45" width="4.4" height="49.35" fill="#97C736"/>
<rect x="1521.36" y="2039.2" width="4" height="1" fill="#a4b08a" opacity="0.85"/>
<rect x="1528.62" y="1990.45" width="4.4" height="49.35" fill="#97C736"/>
<rect x="1536.08" y="2014.77" width="4.4" height="25.02" fill="#97C736"/>
<rect x="1543.73" y="2039.2" width="4" height="1" fill="#a4b08a" opacity="0.85"/>
<rect x="1550.99" y="2014.77" width="4.4" height="25.02" fill="#97C736"/>
<rect x="1558.45" y="2014.77" width="4.4" height="25.02" fill="#97C736"/>
<rect x="1566.11" y="2039.2" width="4" height="1" fill="#a4b08a" opacity="0.85"/>
<rect x="1573.37" y="2014.77" width="4.4" height="25.02" fill="#97C736"/>
<rect x="1580.82" y="1966.12" width="4.4" height="73.67" fill="#97C736"/>
<rect x="1588.28" y="1893.15" width="4.4" height="146.65" fill="#97C736"/>
<text class="sm e" transform="translate(1483.36 2065.1) rotate(-90) scale(0.93 1)" dx="0 -0.7 -0.7">ATA</text>
<text class="sm e" transform="translate(1498.28 2065.1) rotate(-90) scale(0.93 1)" dx="0 -0.7 0">ATG</text>
<text class="sm e" transform="translate(1513.19 2065.1) rotate(-90) scale(0.93 1)" dx="0 0 -0.7">CTA</text>
<text class="sm e" transform="translate(1528.11 2065.1) rotate(-90) scale(0.93 1)">CTG</text>
<text class="sm e" transform="translate(1543.03 2065.1) rotate(-90) scale(0.93 1)" dx="0 0 -0.7">GTA</text>
<text class="sm e" transform="translate(1557.94 2065.1) rotate(-90) scale(0.93 1)">GTG</text>
<text class="sm e" transform="translate(1572.86 2065.1) rotate(-90) scale(0.93 1)" dx="0 0 -0.7">TTA</text>
<text class="sm e" transform="translate(1587.77 2065.1) rotate(-90) scale(0.93 1)">TTG</text>
<rect x="1595.8" y="1786" width="116.2" height="20" fill="#EEAEEE"/>
<text class="tp m" transform="translate(1654 1773.55) scale(0.96 1)" dx="0 -0.73 -0.73">T&gt;G</text>
<rect x="1595.94" y="2039.2" width="4" height="1" fill="#bfa6bf" opacity="0.85"/>
<rect x="1603.4" y="2039.2" width="4" height="1" fill="#bfa6bf" opacity="0.85"/>
<rect x="1610.86" y="2039.2" width="4" height="1" fill="#bfa6bf" opacity="0.85"/>
<rect x="1618.11" y="1990.45" width="4.4" height="49.35" fill="#E6A8E6"/>
<rect x="1625.57" y="1990.45" width="4.4" height="49.35" fill="#E6A8E6"/>
<rect x="1633.23" y="2039.2" width="4" height="1" fill="#bfa6bf" opacity="0.85"/>
<rect x="1640.69" y="2039.2" width="4" height="1" fill="#bfa6bf" opacity="0.85"/>
<rect x="1648.15" y="2039.2" width="4" height="1" fill="#bfa6bf" opacity="0.85"/>
<rect x="1655.4" y="2014.77" width="4.4" height="25.02" fill="#E6A8E6"/>
<rect x="1663.06" y="2039.2" width="4" height="1" fill="#bfa6bf" opacity="0.85"/>
<rect x="1670.52" y="2039.2" width="4" height="1" fill="#bfa6bf" opacity="0.85"/>
<rect x="1677.78" y="2014.77" width="4.4" height="25.02" fill="#E6A8E6"/>
<rect x="1685.44" y="2039.2" width="4" height="1" fill="#bfa6bf" opacity="0.85"/>
<rect x="1692.69" y="1990.45" width="4.4" height="49.35" fill="#E6A8E6"/>
<rect x="1700.35" y="2039.2" width="4" height="1" fill="#bfa6bf" opacity="0.85"/>
<rect x="1707.61" y="2014.77" width="4.39" height="25.02" fill="#E6A8E6"/>
<text class="sm e" transform="translate(1602.69 2065.1) rotate(-90) scale(0.93 1)" dx="0 -0.7 -0.7">ATA</text>
<text class="sm e" transform="translate(1617.61 2065.1) rotate(-90) scale(0.93 1)" dx="0 -0.7 0">ATG</text>
<text class="sm e" transform="translate(1632.52 2065.1) rotate(-90) scale(0.93 1)" dx="0 0 -0.7">CTA</text>
<text class="sm e" transform="translate(1647.44 2065.1) rotate(-90) scale(0.93 1)">CTG</text>
<text class="sm e" transform="translate(1662.35 2065.1) rotate(-90) scale(0.93 1)" dx="0 0 -0.7">GTA</text>
<text class="sm e" transform="translate(1677.27 2065.1) rotate(-90) scale(0.93 1)">GTG</text>
<text class="sm e" transform="translate(1692.19 2065.1) rotate(-90) scale(0.93 1)" dx="0 0 -0.7">TTA</text>
<text class="sm e" transform="translate(1707.1 2065.1) rotate(-90) scale(0.93 1)">TTG</text>
<path class="ax" d="M971 1746.9 V2039.4"/>
<path class="tk" d="M958.55 2039.1 H970.8 M958.55 1990.45 H970.8 M958.55 1941.8 H970.8 M958.55 1893.15 H970.8 M958.55 1844.5 H970.8 M958.55 1795.85 H970.8 M958.55 1747.2 H970.8"/>
<text class="rt e" transform="translate(945.3 2047.2) scale(0.95 1)">0</text>
<text class="rt e" transform="translate(945.3 1998.55) scale(0.95 1)">2</text>
<text class="rt e" transform="translate(945.3 1949.9) scale(0.95 1)">4</text>
<text class="rt e" transform="translate(945.3 1901.25) scale(0.95 1)">6</text>
<text class="rt e" transform="translate(945.3 1852.6) scale(0.95 1)">8</text>
<text class="rt e" transform="translate(945.3 1803.95) scale(0.95 1)" dx="0 -1.37">10</text>
<text class="rt e" transform="translate(945.3 1755.3) scale(0.95 1)" dx="0 -1.37">12</text>
<text class="yr m" transform="translate(889.05 1893.5) rotate(-90) scale(0.98 1)">count</text>
</g>
</g>
<g id="row-f">
<text class="pl s" transform="translate(1.5 2125.38) scale(1.01 1)"><tspan font-size="30.85px">(</tspan><tspan font-size="31.1px" dy="0.1">f</tspan><tspan font-size="30.85px" dy="-0.1">)</tspan></text>
<g class="left">
<rect x="127.35" y="2291.51" width="87.55" height="167.84" fill="#1E90FF"/>
<rect x="231.68" y="2435.94" width="87.55" height="23.41" fill="#000000"/>
<rect x="336.01" y="2204.85" width="87.55" height="254.5" fill="#FF0000"/>
<rect x="440.34" y="2407.05" width="87.55" height="52.3" fill="#FFC0CB"/>
<rect x="544.67" y="2418.61" width="87.55" height="40.74" fill="#B3B3B3"/>
<rect x="649" y="2366.61" width="87.55" height="92.74" fill="#9ACD32"/>
<rect x="753.33" y="2458.55" width="87.55" height="1" fill="#bdbdbd" opacity="0.8"/>
<path class="ax" d="M98.95 2170.25 V2459.15"/>
<path class="tk" d="M86.45 2458.85 H98.75 M86.45 2401.19 H98.75 M86.45 2343.53 H98.75 M86.45 2285.87 H98.75 M86.45 2228.21 H98.75 M86.45 2170.55 H98.75"/>
<text class="lt m" transform="translate(68.6 2459.85) rotate(-90) scale(0.93 1)">0</text>
<text class="lt m" transform="translate(68.6 2402.19) rotate(-90) scale(0.93 1)" dx="0 -1.4">10</text>
<text class="lt m" transform="translate(68.6 2344.53) rotate(-90) scale(0.93 1)">20</text>
<text class="lt m" transform="translate(68.6 2286.87) rotate(-90) scale(0.93 1)">30</text>
<text class="lt m" transform="translate(68.6 2229.21) rotate(-90) scale(0.93 1)">40</text>
<text class="lt m" transform="translate(68.6 2171.55) rotate(-90) scale(0.93 1)">50</text>
<text class="yl m" transform="translate(18 2313.95) rotate(-90) scale(0.95 1)" dx="0 0 0 0 0 -0.53">GEL_11</text>
<text class="xl m" transform="translate(170.72 2506.35) scale(0.96 1)" dx="0 -0.73 -0.73">C&gt;A</text>
<text class="xl m" transform="translate(275.06 2506.35) scale(0.96 1)" dx="0 -0.73 -0.73">C&gt;G</text>
<text class="xl m" transform="translate(379.38 2506.35) scale(0.96 1)" dx="0 -0.73 -0.73">C&gt;T</text>
<text class="xl m" transform="translate(483.72 2506.35) scale(0.97 1)" dx="0 0 0 -0.72 -0.72 0 0">CpG&gt;TpG</text>
<text class="xl m" transform="translate(588.04 2506.35) scale(0.96 1)" dx="0 -0.73 -0.73">T&gt;A</text>
<text class="xl m" transform="translate(692.38 2506.35) scale(0.96 1)" dx="0 -0.73 -0.73">T&gt;C</text>
<text class="xl m" transform="translate(796.71 2506.35) scale(0.96 1)" dx="0 -0.73 -0.73">T&gt;G</text>
</g>
<g class="right">
<rect x="999.1" y="2205.75" width="116.4" height="20" fill="#1E90FF"/>
<text class="tp m" transform="translate(1057.3 2193.45) scale(0.96 1)" dx="0 -0.73 -0.73">C&gt;A</text>
<rect x="999.1" y="2450" width="4.4" height="9.55" fill="#2089E8"/>
<rect x="1006.56" y="2343.86" width="4.4" height="115.69" fill="#2089E8"/>
<rect x="1014.22" y="2458.95" width="4" height="1" fill="#7f9fbf" opacity="0.85"/>
<rect x="1021.67" y="2458.95" width="4" height="1" fill="#7f9fbf" opacity="0.85"/>
<rect x="1029.13" y="2458.95" width="4" height="1" fill="#7f9fbf" opacity="0.85"/>
<rect x="1036.39" y="2441.16" width="4.4" height="18.39" fill="#2089E8"/>
<rect x="1043.85" y="2450" width="4.4" height="9.55" fill="#2089E8"/>
<rect x="1051.31" y="2441.16" width="4.4" height="18.39" fill="#2089E8"/>
<rect x="1058.96" y="2458.95" width="4" height="1" fill="#7f9fbf" opacity="0.85"/>
<rect x="1066.22" y="2388.09" width="4.4" height="71.46" fill="#2089E8"/>
<rect x="1073.88" y="2458.95" width="4" height="1" fill="#7f9fbf" opacity="0.85"/>
<rect x="1081.34" y="2458.95" width="4" height="1" fill="#7f9fbf" opacity="0.85"/>
<rect x="1088.6" y="2450" width="4.4" height="9.55" fill="#2089E8"/>
<rect x="1096.25" y="2458.95" width="4" height="1" fill="#7f9fbf" opacity="0.85"/>
<rect x="1103.71" y="2458.95" width="4" height="1" fill="#7f9fbf" opacity="0.85"/>
<rect x="1110.97" y="2450" width="4.4" height="9.55" fill="#2089E8"/>
<text class="sm e" transform="translate(1006.05 2484.85) rotate(-90) scale(0.93 1)">ACA</text>
<text class="sm e" transform="translate(1020.97 2484.85) rotate(-90) scale(0.93 1)">ACG</text>
<text class="sm e" transform="translate(1035.88 2484.85) rotate(-90) scale(0.93 1)">CCA</text>
<text class="sm e" transform="translate(1050.8 2484.85) rotate(-90) scale(0.93 1)">CCG</text>
<text class="sm e" transform="translate(1065.71 2484.85) rotate(-90) scale(0.93 1)">GCA</text>
<text class="sm e" transform="translate(1080.63 2484.85) rotate(-90) scale(0.93 1)">GCG</text>
<text class="sm e" transform="translate(1095.55 2484.85) rotate(-90) scale(0.93 1)">TCA</text>
<text class="sm e" transform="translate(1110.46 2484.85) rotate(-90) scale(0.93 1)">TCG</text>
<rect x="1117.9" y="2205.75" width="117.1" height="20" fill="#000000"/>
<text class="tp m" transform="translate(1176.1 2193.45) scale(0.96 1)" dx="0 -0.73 -0.73">C&gt;G</text>
<rect x="1118.43" y="2450" width="4.4" height="9.55" fill="#000000"/>
<rect x="1126.09" y="2458.95" width="4" height="1" fill="#333333" opacity="0.85"/>
<rect x="1133.54" y="2458.95" width="4" height="1" fill="#333333" opacity="0.85"/>
<rect x="1140.8" y="2450" width="4.4" height="9.55" fill="#000000"/>
<rect x="1148.46" y="2458.95" width="4" height="1" fill="#333333" opacity="0.85"/>
<rect x="1155.92" y="2458.95" width="4" height="1" fill="#333333" opacity="0.85"/>
<rect x="1163.38" y="2458.95" width="4" height="1" fill="#333333" opacity="0.85"/>
<rect x="1170.83" y="2458.95" width="4" height="1" fill="#333333" opacity="0.85"/>
<rect x="1178.29" y="2458.95" width="4" height="1" fill="#333333" opacity="0.85"/>
<rect x="1185.75" y="2458.95" width="4" height="1" fill="#333333" opacity="0.85"/>
<rect x="1193.21" y="2458.95" width="4" height="1" fill="#333333" opacity="0.85"/>
<rect x="1200.67" y="2458.95" width="4" height="1" fill="#333333" opacity="0.85"/>
<rect x="1208.12" y="2458.95" width="4" height="1" fill="#333333" opacity="0.85"/>
<rect x="1215.38" y="2450" width="4.4" height="9.55" fill="#000000"/>
<rect x="1223.04" y="2458.95" width="4" height="1" fill="#333333" opacity="0.85"/>
<rect x="1230.3" y="2450" width="4.4" height="9.55" fill="#000000"/>
<text class="sm e" transform="translate(1125.38 2484.85) rotate(-90) scale(0.93 1)">ACA</text>
<text class="sm e" transform="translate(1140.29 2484.85) rotate(-90) scale(0.93 1)">ACG</text>
<text class="sm e" transform="translate(1155.21 2484.85) rotate(-90) scale(0.93 1)">CCA</text>
<text class="sm e" transform="translate(1170.13 2484.85) rotate(-90) scale(0.93 1)">CCG</text>
<text class="sm e" transform="translate(1185.04 2484.85) rotate(-90) scale(0.93 1)">GCA</text>
<text class="sm e" transform="translate(1199.96 2484.85) rotate(-90) scale(0.93 1)">GCG</text>
<text class="sm e" transform="translate(1214.87 2484.85) rotate(-90) scale(0.93 1)">TCA</text>
<text class="sm e" transform="translate(1229.79 2484.85) rotate(-90) scale(0.93 1)">TCG</text>
<rect x="1237.7" y="2205.75" width="116.2" height="20" fill="#FF0000"/>
<text class="tp m" transform="translate(1295.9 2193.45) scale(0.96 1)" dx="0 -0.73 -0.73">C&gt;T</text>
<rect x="1237.96" y="2458.95" width="4" height="1" fill="#bb5555" opacity="0.85"/>
<rect x="1245.21" y="2450" width="4.4" height="9.55" fill="#E61010"/>
<rect x="1252.67" y="2450" width="4.4" height="9.55" fill="#E61010"/>
<rect x="1260.13" y="2441.16" width="4.4" height="18.39" fill="#E61010"/>
<rect x="1267.59" y="2432.31" width="4.4" height="27.24" fill="#E61010"/>
<rect x="1275.05" y="2264.25" width="4.4" height="195.3" fill="#E61010"/>
<rect x="1282.5" y="2423.47" width="4.4" height="36.08" fill="#E61010"/>
<rect x="1289.96" y="2370.4" width="4.4" height="89.15" fill="#E61010"/>
<rect x="1297.62" y="2458.95" width="4" height="1" fill="#bb5555" opacity="0.85"/>
<rect x="1304.88" y="2450" width="4.4" height="9.55" fill="#E61010"/>
<rect x="1312.34" y="2432.31" width="4.4" height="27.24" fill="#E61010"/>
<rect x="1319.99" y="2458.95" width="4" height="1" fill="#bb5555" opacity="0.85"/>
<rect x="1327.25" y="2450" width="4.4" height="9.55" fill="#E61010"/>
<rect x="1334.71" y="2423.47" width="4.4" height="36.08" fill="#E61010"/>
<rect x="1342.17" y="2450" width="4.4" height="9.55" fill="#E61010"/>
<rect x="1349.83" y="2458.95" width="4" height="1" fill="#bb5555" opacity="0.85"/>
<text class="sm e" transform="translate(1244.71 2484.85) rotate(-90) scale(0.93 1)">ACA</text>
<text class="sm e" transform="translate(1259.62 2484.85) rotate(-90) scale(0.93 1)">ACG</text>
<text class="sm e" transform="translate(1274.54 2484.85) rotate(-90) scale(0.93 1)">CCA</text>
<text class="sm e" transform="translate(1289.45 2484.85) rotate(-90) scale(0.93 1)">CCG</text>
<text class="sm e" transform="translate(1304.37 2484.85) rotate(-90) scale(0.93 1)">GCA</text>
<text class="sm e" transform="translate(1319.29 2484.85) rotate(-90) scale(0.93 1)">GCG</text>
<text class="sm e" transform="translate(1334.2 2484.85) rotate(-90) scale(0.93 1)">TCA</text>
<text class="sm e" transform="translate(1349.12 2484.85) rotate(-90) scale(0.93 1)">TCG</text>
<rect x="1357.5" y="2205.75" width="115.7" height="20" fill="#B3B3B3"/>
<text class="tp m" transform="translate(1415.7 2193.45) scale(0.96 1)" dx="0 -0.73 -0.73">T&gt;A</text>
<rect x="1357.28" y="2458.95" width="4" height="1" fill="#a8a8a8" opacity="0.85"/>
<rect x="1364.74" y="2458.95" width="4" height="1" fill="#a8a8a8" opacity="0.85"/>
<rect x="1372.2" y="2458.95" width="4" height="1" fill="#a8a8a8" opacity="0.85"/>
<rect x="1379.66" y="2458.95" width="4" height="1" fill="#a8a8a8" opacity="0.85"/>
<rect x="1387.12" y="2458.95" width="4" height="1" fill="#a8a8a8" opacity="0.85"/>
<rect x="1394.37" y="2450" width="4.4" height="9.55" fill="#B0B0B0"/>
<rect x="1402.03" y="2458.95" width="4" height="1" fill="#a8a8a8" opacity="0.85"/>
<rect x="1409.29" y="2423.47" width="4.4" height="36.08" fill="#B0B0B0"/>
<rect x="1416.95" y="2458.95" width="4" height="1" fill="#a8a8a8" opacity="0.85"/>
<rect x="1424.41" y="2458.95" width="4" height="1" fill="#a8a8a8" opacity="0.85"/>
<rect x="1431.66" y="2450" width="4.4" height="9.55" fill="#B0B0B0"/>
<rect x="1439.32" y="2458.95" width="4" height="1" fill="#a8a8a8" opacity="0.85"/>
<rect x="1446.78" y="2458.95" width="4" height="1" fill="#a8a8a8" opacity="0.85"/>
<rect x="1454.24" y="2458.95" width="4" height="1" fill="#a8a8a8" opacity="0.85"/>
<rect x="1461.7" y="2458.95" width="4" height="1" fill="#a8a8a8" opacity="0.85"/>
<rect x="1468.95" y="2450" width="4.4" height="9.55" fill="#B0B0B0"/>
<text class="sm e" transform="translate(1364.03 2484.85) rotate(-90) scale(0.93 1)" dx="0 -0.7 -0.7">ATA</text>
<text class="sm e" transform="translate(1378.95 2484.85) rotate(-90) scale(0.93 1)" dx="0 -0.7 0">ATG</text>
<text class="sm e" transform="translate(1393.87 2484.85) rotate(-90) scale(0.93 1)" dx="0 0 -0.7">CTA</text>
<text class="sm e" transform="translate(1408.78 2484.85) rotate(-90) scale(0.93 1)">CTG</text>
<text class="sm e" transform="translate(1423.7 2484.85) rotate(-90) scale(0.93 1)" dx="0 0 -0.7">GTA</text>
<text class="sm e" transform="translate(1438.61 2484.85) rotate(-90) scale(0.93 1)">GTG</text>
<text class="sm e" transform="translate(1453.53 2484.85) rotate(-90) scale(0.93 1)" dx="0 0 -0.7">TTA</text>
<text class="sm e" transform="translate(1468.45 2484.85) rotate(-90) scale(0.93 1)">TTG</text>
<rect x="1476" y="2205.75" width="117.1" height="20" fill="#9ACD32"/>
<text class="tp m" transform="translate(1534.2 2193.45) scale(0.96 1)" dx="0 -0.73 -0.73">T&gt;C</text>
<rect x="1476.61" y="2458.95" width="4" height="1" fill="#a4b08a" opacity="0.85"/>
<rect x="1484.07" y="2458.95" width="4" height="1" fill="#a4b08a" opacity="0.85"/>
<rect x="1491.33" y="2450" width="4.4" height="9.55" fill="#97C736"/>
<rect x="1498.79" y="2450" width="4.4" height="9.55" fill="#97C736"/>
<rect x="1506.44" y="2458.95" width="4" height="1" fill="#a4b08a" opacity="0.85"/>
<rect x="1513.9" y="2458.95" width="4" height="1" fill="#a4b08a" opacity="0.85"/>
<rect x="1521.16" y="2450" width="4.4" height="9.55" fill="#97C736"/>
<rect x="1528.62" y="2441.16" width="4.4" height="18.39" fill="#97C736"/>
<rect x="1536.08" y="2441.16" width="4.4" height="18.39" fill="#97C736"/>
<rect x="1543.53" y="2450" width="4.4" height="9.55" fill="#97C736"/>
<rect x="1550.99" y="2450" width="4.4" height="9.55" fill="#97C736"/>
<rect x="1558.65" y="2458.95" width="4" height="1" fill="#a4b08a" opacity="0.85"/>
<rect x="1565.91" y="2441.16" width="4.4" height="18.39" fill="#97C736"/>
<rect x="1573.37" y="2441.16" width="4.4" height="18.39" fill="#97C736"/>
<rect x="1581.02" y="2458.95" width="4" height="1" fill="#a4b08a" opacity="0.85"/>
<rect x="1588.28" y="2432.31" width="4.4" height="27.24" fill="#97C736"/>
<text class="sm e" transform="translate(1483.36 2484.85) rotate(-90) scale(0.93 1)" dx="0 -0.7 -0.7">ATA</text>
<text class="sm e" transform="translate(1498.28 2484.85) rotate(-90) scale(0.93 1)" dx="0 -0.7 0">ATG</text>
<text class="sm e" transform="translate(1513.19 2484.85) rotate(-90) scale(0.93 1)" dx="0 0 -0.7">CTA</text>
<text class="sm e" transform="translate(1528.11 2484.85) rotate(-90) scale(0.93 1)">CTG</text>
<text class="sm e" transform="translate(1543.03 2484.85) rotate(-90) scale(0.93 1)" dx="0 0 -0.7">GTA</text>
<text class="sm e" transform="translate(1557.94 2484.85) rotate(-90) scale(0.93 1)">GTG</text>
<text class="sm e" transform="translate(1572.86 2484.85) rotate(-90) scale(0.93 1)" dx="0 0 -0.7">TTA</text>
<text class="sm e" transform="translate(1587.77 2484.85) rotate(-90) scale(0.93 1)">TTG</text>
<rect x="1595.8" y="2205.75" width="116.2" height="20" fill="#EEAEEE"/>
<text class="tp m" transform="translate(1654 2193.45) scale(0.96 1)" dx="0 -0.73 -0.73">T&gt;G</text>
<rect x="1595.94" y="2458.95" width="4" height="1" fill="#bfa6bf" opacity="0.85"/>
<rect x="1603.4" y="2458.95" width="4" height="1" fill="#bfa6bf" opacity="0.85"/>
<rect x="1610.86" y="2458.95" width="4" height="1" fill="#bfa6bf" opacity="0.85"/>
<rect x="1618.31" y="2458.95" width="4" height="1" fill="#bfa6bf" opacity="0.85"/>
<rect x="1625.77" y="2458.95" width="4" height="1" fill="#bfa6bf" opacity="0.85"/>
<rect x="1633.23" y="2458.95" width="4" height="1" fill="#bfa6bf" opacity="0.85"/>
<rect x="1640.69" y="2458.95" width="4" height="1" fill="#bfa6bf" opacity="0.85"/>
<rect x="1648.15" y="2458.95" width="4" height="1" fill="#bfa6bf" opacity="0.85"/>
<rect x="1655.6" y="2458.95" width="4" height="1" fill="#bfa6bf" opacity="0.85"/>
<rect x="1663.06" y="2458.95" width="4" height="1" fill="#bfa6bf" opacity="0.85"/>
<rect x="1670.52" y="2458.95" width="4" height="1" fill="#bfa6bf" opacity="0.85"/>
<rect x="1677.98" y="2458.95" width="4" height="1" fill="#bfa6bf" opacity="0.85"/>
<rect x="1685.44" y="2458.95" width="4" height="1" fill="#bfa6bf" opacity="0.85"/>
<rect x="1692.89" y="2458.95" width="4" height="1" fill="#bfa6bf" opacity="0.85"/>
<rect x="1700.35" y="2458.95" width="4" height="1" fill="#bfa6bf" opacity="0.85"/>
<rect x="1707.81" y="2458.95" width="3.99" height="1" fill="#bfa6bf" opacity="0.85"/>
<text class="sm e" transform="translate(1602.69 2484.85) rotate(-90) scale(0.93 1)" dx="0 -0.7 -0.7">ATA</text>
<text class="sm e" transform="translate(1617.61 2484.85) rotate(-90) scale(0.93 1)" dx="0 -0.7 0">ATG</text>
<text class="sm e" transform="translate(1632.52 2484.85) rotate(-90) scale(0.93 1)" dx="0 0 -0.7">CTA</text>
<text class="sm e" transform="translate(1647.44 2484.85) rotate(-90) scale(0.93 1)">CTG</text>
<text class="sm e" transform="translate(1662.35 2484.85) rotate(-90) scale(0.93 1)" dx="0 0 -0.7">GTA</text>
<text class="sm e" transform="translate(1677.27 2484.85) rotate(-90) scale(0.93 1)">GTG</text>
<text class="sm e" transform="translate(1692.19 2484.85) rotate(-90) scale(0.93 1)" dx="0 0 -0.7">TTA</text>
<text class="sm e" transform="translate(1707.1 2484.85) rotate(-90) scale(0.93 1)">TTG</text>
<path class="ax" d="M971 2193.19 V2459.15"/>
<path class="tk" d="M958.55 2458.85 H970.8 M958.55 2414.62 H970.8 M958.55 2370.4 H970.8 M958.55 2326.17 H970.8 M958.55 2281.94 H970.8 M958.55 2237.71 H970.8 M958.55 2193.49 H970.8"/>
<text class="rt e" transform="translate(945.3 2466.95) scale(0.95 1)">0</text>
<text class="rt e" transform="translate(945.3 2422.72) scale(0.95 1)">5</text>
<text class="rt e" transform="translate(945.3 2378.5) scale(0.95 1)" dx="0 -1.37">10</text>
<text class="rt e" transform="translate(945.3 2334.27) scale(0.95 1)" dx="0 -1.37">15</text>
<text class="rt e" transform="translate(945.3 2290.04) scale(0.95 1)">20</text>
<text class="rt e" transform="translate(945.3 2245.81) scale(0.95 1)">25</text>
<text class="rt e" transform="translate(945.3 2201.59) scale(0.95 1)">30</text>
<text class="yr m" transform="translate(889.05 2313.25) rotate(-90) scale(0.98 1)">count</text>
</g>
</g>
</svg>
</body></html>
